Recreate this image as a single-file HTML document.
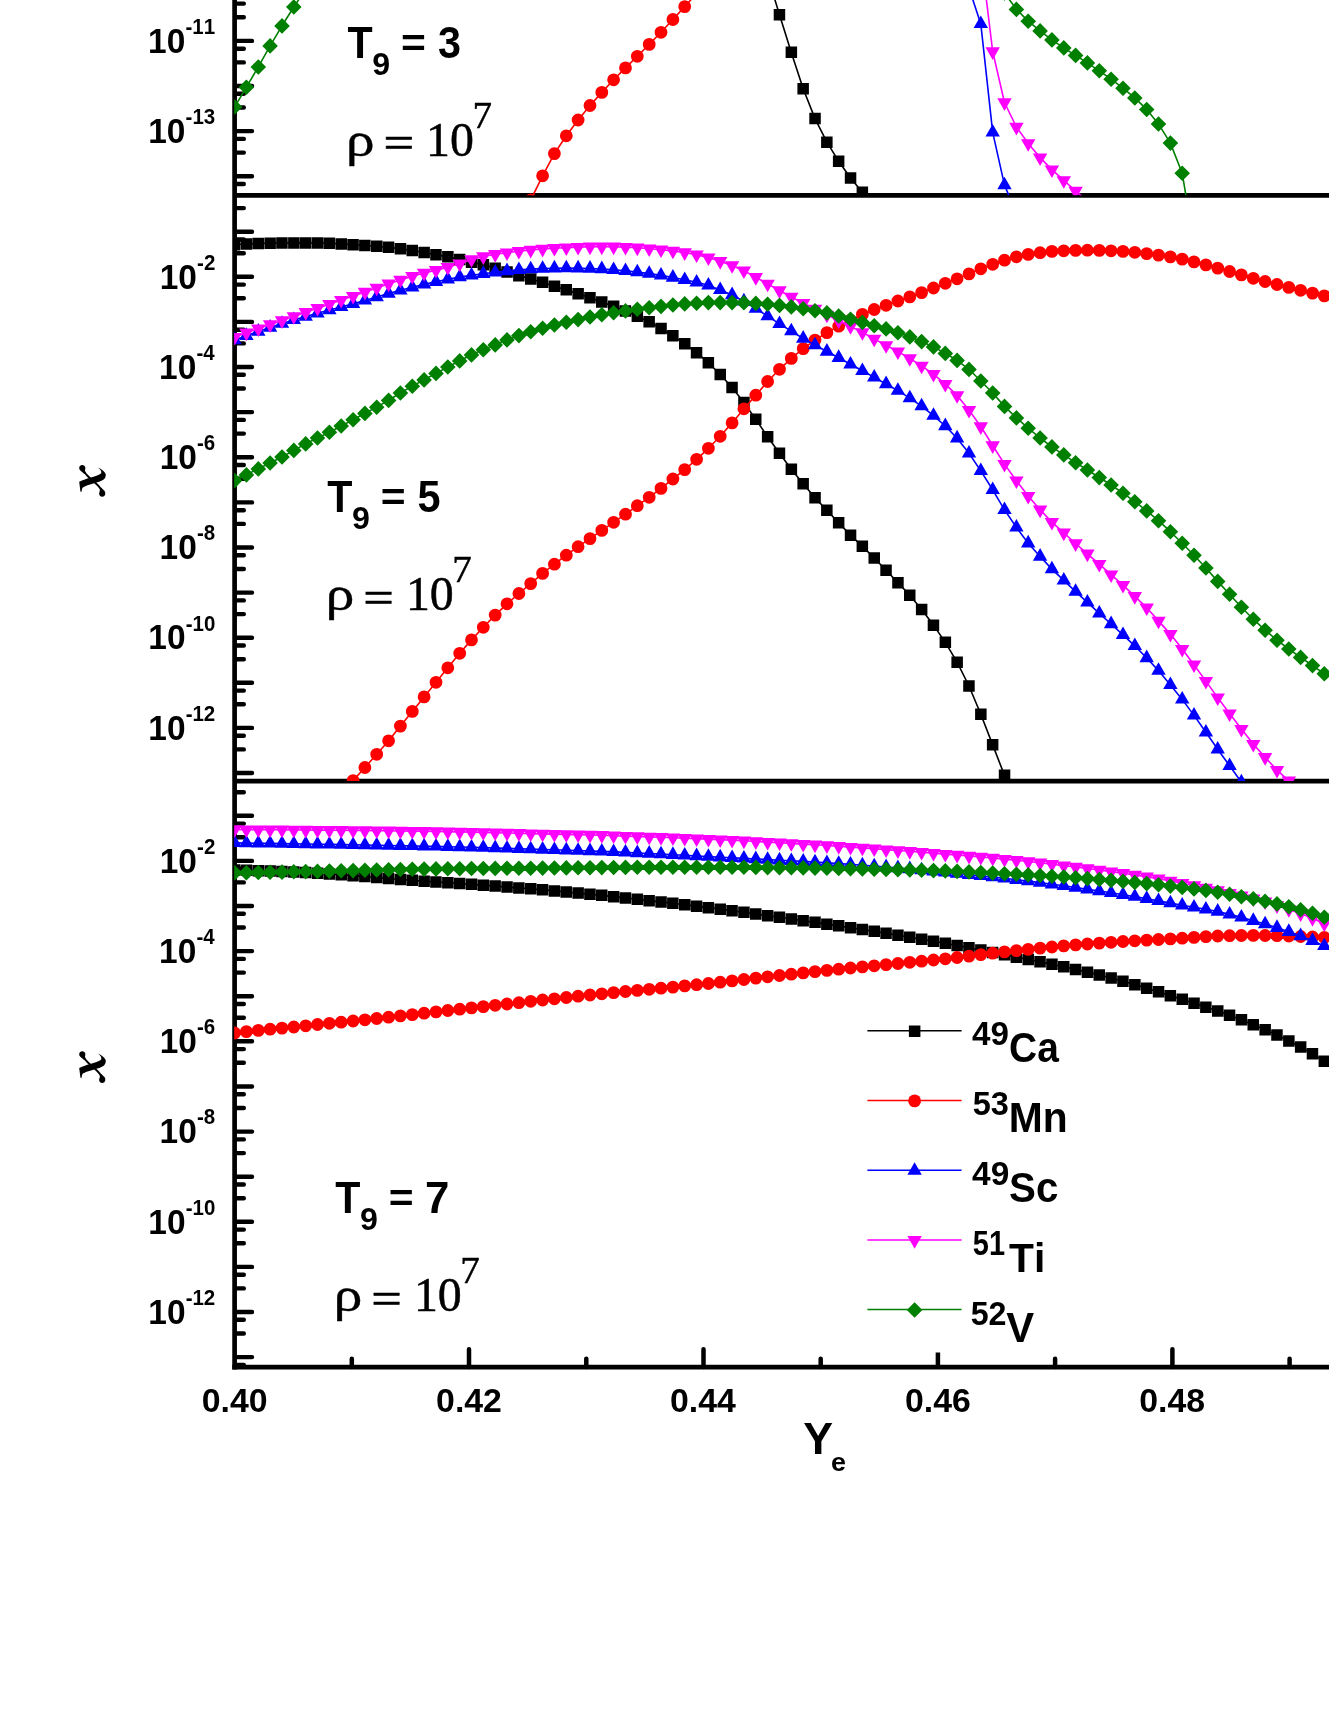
<!DOCTYPE html>
<html><head><meta charset="utf-8"><title>chart</title>
<style>html,body{margin:0;padding:0;background:#fff;overflow:hidden;}svg{display:block;}text{font-kerning:none;}svg{will-change:transform;}</style></head>
<body>
<svg width="1329" height="1719" viewBox="0 0 1329 1719">
<defs>
<clipPath id="c1"><rect x="234.2" y="-20" width="1200" height="215.3"/></clipPath>
<clipPath id="c2"><rect x="234.2" y="195.3" width="1200" height="585.8"/></clipPath>
<clipPath id="c3"><rect x="234.2" y="781.1" width="1200" height="586"/></clipPath>
</defs>
<rect width="1329" height="1719" fill="#fff"/>
<g stroke="#000" fill="none">
<path d="M234.6 -5V1369.4" stroke-width="4.7"/>
<path d="M234.6 195.4H1335M234.6 781.1H1335" stroke-width="4.8"/>
<path d="M232.3 1367.1H1335" stroke-width="4.8"/>
<path d="M235.6 -4.2H252M235.6 40.9H252M235.6 86H252M235.6 131.1H252M235.6 176.2H252M235.6 231.7H252M235.6 276.8H252M235.6 321.9H252M235.6 367H252M235.6 412.1H252M235.6 457.2H252M235.6 502.4H252M235.6 547.5H252M235.6 592.6H252M235.6 637.7H252M235.6 682.8H252M235.6 727.9H252M235.6 773H252M235.6 815.8H252M235.6 860.9H252M235.6 906H252M235.6 951.1H252M235.6 996.2H252M235.6 1041.3H252M235.6 1086.5H252M235.6 1131.6H252M235.6 1176.7H252M235.6 1221.8H252M235.6 1266.9H252M235.6 1312H252M235.6 1357.1H252" stroke-width="4.4" stroke-linecap="round"/>
<path d="M235.6 3.6H243.8M235.6 17.3H243.8M235.6 48.7H243.8M235.6 62.4H243.8M235.6 93.8H243.8M235.6 107.5H243.8M235.6 138.9H243.8M235.6 152.6H243.8M235.6 184H243.8M235.6 208.1H243.8M235.6 239.5H243.8M235.6 253.2H243.8M235.6 284.6H243.8M235.6 298.3H243.8M235.6 329.7H243.8M235.6 343.4H243.8M235.6 374.8H243.8M235.6 388.5H243.8M235.6 419.9H243.8M235.6 433.6H243.8M235.6 465H243.8M235.6 478.7H243.8M235.6 510.2H243.8M235.6 523.9H243.8M235.6 555.3H243.8M235.6 569H243.8M235.6 600.4H243.8M235.6 614.1H243.8M235.6 645.5H243.8M235.6 659.2H243.8M235.6 690.6H243.8M235.6 704.3H243.8M235.6 735.7H243.8M235.6 749.4H243.8M235.6 792.2H243.8M235.6 823.6H243.8M235.6 837.3H243.8M235.6 868.7H243.8M235.6 882.4H243.8M235.6 913.8H243.8M235.6 927.5H243.8M235.6 958.9H243.8M235.6 972.6H243.8M235.6 1004H243.8M235.6 1017.7H243.8M235.6 1049.1H243.8M235.6 1062.8H243.8M235.6 1094.2H243.8M235.6 1108H243.8M235.6 1139.4H243.8M235.6 1153.1H243.8M235.6 1184.5H243.8M235.6 1198.2H243.8M235.6 1229.6H243.8M235.6 1243.3H243.8M235.6 1274.7H243.8M235.6 1288.4H243.8M235.6 1319.8H243.8M235.6 1333.5H243.8M235.6 1364.9H243.8" stroke-width="4.4" stroke-linecap="round"/>
<path d="M351.8 1367.1V1358.8M469 1367.1V1349.2M586.3 1367.1V1358.8M703.5 1367.1V1349.2M820.7 1367.1V1358.8M1055.1 1367.1V1358.8M1172.4 1367.1V1349.2M1289.6 1367.1V1358.8" stroke-width="4.5" stroke-linecap="round"/>
<path d="M937.9 1367.1V1352.5" stroke-width="4.5"/>
</g>
<g clip-path="url(#c1)">
<path d="M755.8 -62L767.6 -24L779.5 14.7L791.3 52.4L803.2 88.8L815 118.6L826.9 142.2L838.7 161.3L850.5 178L862.4 192.3L874.2 205" fill="none" stroke="#000000" stroke-width="1.6" stroke-linejoin="round"/>
<path d="M750 -67.8h11.5v11.5h-11.5zM761.9 -29.8h11.5v11.5h-11.5zM773.7 8.9h11.5v11.5h-11.5zM785.6 46.6h11.5v11.5h-11.5zM797.4 83h11.5v11.5h-11.5zM809.3 112.8h11.5v11.5h-11.5zM821.1 136.4h11.5v11.5h-11.5zM832.9 155.6h11.5v11.5h-11.5zM844.8 172.2h11.5v11.5h-11.5zM856.6 186.6h11.5v11.5h-11.5zM868.5 199.2h11.5v11.5h-11.5z" fill="#000000"/>
<path d="M530.7 200L542.6 175.8L554.4 153.6L566.3 135.8L578.1 120L590 105.5L601.8 92.4L613.6 79.8L625.5 67.9L637.3 56.3L649.2 44.4L661 32.3L672.9 19.5L684.7 6.6L696.6 -6.5L708.4 -20" fill="none" stroke="#ff0000" stroke-width="1.6" stroke-linejoin="round"/>
<path d="M524.3 200a6.4 6.4 0 1 0 12.8 0a6.4 6.4 0 1 0 -12.8 0zM536.2 175.8a6.4 6.4 0 1 0 12.8 0a6.4 6.4 0 1 0 -12.8 0zM548 153.6a6.4 6.4 0 1 0 12.8 0a6.4 6.4 0 1 0 -12.8 0zM559.9 135.8a6.4 6.4 0 1 0 12.8 0a6.4 6.4 0 1 0 -12.8 0zM571.7 120a6.4 6.4 0 1 0 12.8 0a6.4 6.4 0 1 0 -12.8 0zM583.6 105.5a6.4 6.4 0 1 0 12.8 0a6.4 6.4 0 1 0 -12.8 0zM595.4 92.4a6.4 6.4 0 1 0 12.8 0a6.4 6.4 0 1 0 -12.8 0zM607.2 79.8a6.4 6.4 0 1 0 12.8 0a6.4 6.4 0 1 0 -12.8 0zM619.1 67.9a6.4 6.4 0 1 0 12.8 0a6.4 6.4 0 1 0 -12.8 0zM630.9 56.3a6.4 6.4 0 1 0 12.8 0a6.4 6.4 0 1 0 -12.8 0zM642.8 44.4a6.4 6.4 0 1 0 12.8 0a6.4 6.4 0 1 0 -12.8 0zM654.6 32.3a6.4 6.4 0 1 0 12.8 0a6.4 6.4 0 1 0 -12.8 0zM666.5 19.5a6.4 6.4 0 1 0 12.8 0a6.4 6.4 0 1 0 -12.8 0zM678.3 6.6a6.4 6.4 0 1 0 12.8 0a6.4 6.4 0 1 0 -12.8 0zM690.2 -6.5a6.4 6.4 0 1 0 12.8 0a6.4 6.4 0 1 0 -12.8 0zM702 -20a6.4 6.4 0 1 0 12.8 0a6.4 6.4 0 1 0 -12.8 0z" fill="#ff0000"/>
<path d="M957.1 -47.9L969 -11.9L980.8 23.9L992.7 132.3L1004.5 185.1L1016.4 213.1" fill="none" stroke="#0000ff" stroke-width="1.6" stroke-linejoin="round"/>
<path d="M957.1 -56.3l7.2 12.6h-14.4zM969 -20.3l7.2 12.6h-14.4zM980.8 15.5l7.2 12.6h-14.4zM992.7 123.9l7.2 12.6h-14.4zM1004.5 176.7l7.2 12.6h-14.4zM1016.4 204.7l7.2 12.6h-14.4z" fill="#0000ff"/>
<path d="M969 -142.1L980.8 -46.1L992.7 51.5L1004.5 102.5L1016.4 127L1028.2 143.4L1040.1 157.6L1051.9 169.6L1063.8 180.4L1075.6 191L1087.4 200.9" fill="none" stroke="#ff00ff" stroke-width="1.6" stroke-linejoin="round"/>
<path d="M969 -133.7l7.2 -12.6h-14.4zM980.8 -37.7l7.2 -12.6h-14.4zM992.7 59.9l7.2 -12.6h-14.4zM1004.5 110.9l7.2 -12.6h-14.4zM1016.4 135.4l7.2 -12.6h-14.4zM1028.2 151.8l7.2 -12.6h-14.4zM1040.1 166l7.2 -12.6h-14.4zM1051.9 178l7.2 -12.6h-14.4zM1063.8 188.8l7.2 -12.6h-14.4zM1075.6 199.4l7.2 -12.6h-14.4zM1087.4 209.3l7.2 -12.6h-14.4z" fill="#ff00ff"/>
<path d="M234.6 107L246.4 87.2L258.3 66.9L270.1 45.9L282 25.8L293.8 7L305.7 -11L317.5 -29" fill="none" stroke="#008000" stroke-width="1.6" stroke-linejoin="round"/>
<path d="M234.6 99.2l7.8 7.8l-7.8 7.8l-7.8 -7.8zM246.4 79.5l7.8 7.8l-7.8 7.8l-7.8 -7.8zM258.3 59.2l7.8 7.8l-7.8 7.8l-7.8 -7.8zM270.1 38.1l7.8 7.8l-7.8 7.8l-7.8 -7.8zM282 18.1l7.8 7.8l-7.8 7.8l-7.8 -7.8zM293.8 -0.8l7.8 7.8l-7.8 7.8l-7.8 -7.8zM305.7 -18.8l7.8 7.8l-7.8 7.8l-7.8 -7.8zM317.5 -36.8l7.8 7.8l-7.8 7.8l-7.8 -7.8z" fill="#008000"/>
<path d="M992.7 -22L1004.5 -7L1016.4 9.3L1028.2 21.1L1040.1 30.8L1051.9 39.9L1063.8 47.9L1075.6 55.4L1087.4 62.9L1099.3 70.8L1111.1 79.2L1123 88.2L1134.8 97.9L1146.7 109.4L1158.5 123.9L1170.4 143.1L1182.2 173.2L1194 244" fill="none" stroke="#008000" stroke-width="1.6" stroke-linejoin="round"/>
<path d="M992.7 -29.8l7.8 7.8l-7.8 7.8l-7.8 -7.8zM1004.5 -14.8l7.8 7.8l-7.8 7.8l-7.8 -7.8zM1016.4 1.6l7.8 7.8l-7.8 7.8l-7.8 -7.8zM1028.2 13.4l7.8 7.8l-7.8 7.8l-7.8 -7.8zM1040.1 23.1l7.8 7.8l-7.8 7.8l-7.8 -7.8zM1051.9 32.1l7.8 7.8l-7.8 7.8l-7.8 -7.8zM1063.8 40.1l7.8 7.8l-7.8 7.8l-7.8 -7.8zM1075.6 47.6l7.8 7.8l-7.8 7.8l-7.8 -7.8zM1087.4 55.1l7.8 7.8l-7.8 7.8l-7.8 -7.8zM1099.3 63l7.8 7.8l-7.8 7.8l-7.8 -7.8zM1111.1 71.5l7.8 7.8l-7.8 7.8l-7.8 -7.8zM1123 80.5l7.8 7.8l-7.8 7.8l-7.8 -7.8zM1134.8 90.2l7.8 7.8l-7.8 7.8l-7.8 -7.8zM1146.7 101.7l7.8 7.8l-7.8 7.8l-7.8 -7.8zM1158.5 116.2l7.8 7.8l-7.8 7.8l-7.8 -7.8zM1170.4 135.3l7.8 7.8l-7.8 7.8l-7.8 -7.8zM1182.2 165.4l7.8 7.8l-7.8 7.8l-7.8 -7.8zM1194 236.2l7.8 7.8l-7.8 7.8l-7.8 -7.8z" fill="#008000"/>
</g>
<g clip-path="url(#c2)">
<path d="M234.6 244.8L246.4 244L258.3 243.5L270.1 243.2L282 243L293.8 242.9L305.7 242.9L317.5 243L329.4 243.3L341.2 243.9L353.1 244.8L364.9 245.5L376.7 246.3L388.6 247.4L400.4 248.7L412.3 250.5L424.1 252.5L436 254.6L447.8 256.9L459.7 259.4L471.5 262.1L483.3 264.9L495.2 268.1L507 272L518.9 275.6L530.7 279L542.6 282.4L554.4 286.2L566.3 289.9L578.1 293.7L590 297.8L601.8 302L613.6 306.3L625.5 311L637.3 316.3L649.2 321.9L661 328.5L672.9 335.8L684.7 343.9L696.6 352.7L708.4 362.7L720.2 374.5L732.1 387.5L743.9 402.5L755.8 419.4L767.6 436.7L779.5 453.2L791.3 469.2L803.2 483.7L815 497.8L826.9 510.4L838.7 522.8L850.5 535.1L862.4 546.4L874.2 558L886.1 570.2L897.9 582.6L909.8 595.3L921.6 609.5L933.5 625.1L945.3 642.4L957.1 662.1L969 686L980.8 714.2L992.7 744.9L1004.5 775.4L1016.4 806" fill="none" stroke="#000000" stroke-width="1.6" stroke-linejoin="round"/>
<path d="M228.8 239.1h11.5v11.5h-11.5zM240.7 238.3h11.5v11.5h-11.5zM252.5 237.8h11.5v11.5h-11.5zM264.4 237.4h11.5v11.5h-11.5zM276.2 237.2h11.5v11.5h-11.5zM288.1 237.2h11.5v11.5h-11.5zM299.9 237.2h11.5v11.5h-11.5zM311.8 237.3h11.5v11.5h-11.5zM323.6 237.6h11.5v11.5h-11.5zM335.5 238.2h11.5v11.5h-11.5zM347.3 239.1h11.5v11.5h-11.5zM359.1 239.8h11.5v11.5h-11.5zM371 240.6h11.5v11.5h-11.5zM382.8 241.6h11.5v11.5h-11.5zM394.7 242.9h11.5v11.5h-11.5zM406.5 244.7h11.5v11.5h-11.5zM418.4 246.8h11.5v11.5h-11.5zM430.2 248.9h11.5v11.5h-11.5zM442.1 251.1h11.5v11.5h-11.5zM453.9 253.7h11.5v11.5h-11.5zM465.8 256.4h11.5v11.5h-11.5zM477.6 259.1h11.5v11.5h-11.5zM489.4 262.4h11.5v11.5h-11.5zM501.3 266.2h11.5v11.5h-11.5zM513.1 269.9h11.5v11.5h-11.5zM525 273.2h11.5v11.5h-11.5zM536.8 276.6h11.5v11.5h-11.5zM548.7 280.4h11.5v11.5h-11.5zM560.5 284.1h11.5v11.5h-11.5zM572.4 287.9h11.5v11.5h-11.5zM584.2 292.1h11.5v11.5h-11.5zM596 296.2h11.5v11.5h-11.5zM607.9 300.6h11.5v11.5h-11.5zM619.7 305.2h11.5v11.5h-11.5zM631.6 310.6h11.5v11.5h-11.5zM643.4 316.1h11.5v11.5h-11.5zM655.3 322.8h11.5v11.5h-11.5zM667.1 330.1h11.5v11.5h-11.5zM679 338.1h11.5v11.5h-11.5zM690.8 346.9h11.5v11.5h-11.5zM702.6 356.9h11.5v11.5h-11.5zM714.5 368.8h11.5v11.5h-11.5zM726.3 381.8h11.5v11.5h-11.5zM738.2 396.8h11.5v11.5h-11.5zM750 413.6h11.5v11.5h-11.5zM761.9 430.9h11.5v11.5h-11.5zM773.7 447.4h11.5v11.5h-11.5zM785.6 463.4h11.5v11.5h-11.5zM797.4 477.9h11.5v11.5h-11.5zM809.3 492.1h11.5v11.5h-11.5zM821.1 504.6h11.5v11.5h-11.5zM832.9 517h11.5v11.5h-11.5zM844.8 529.4h11.5v11.5h-11.5zM856.6 540.6h11.5v11.5h-11.5zM868.5 552.2h11.5v11.5h-11.5zM880.3 564.5h11.5v11.5h-11.5zM892.2 576.9h11.5v11.5h-11.5zM904 589.5h11.5v11.5h-11.5zM915.9 603.8h11.5v11.5h-11.5zM927.7 619.4h11.5v11.5h-11.5zM939.6 636.6h11.5v11.5h-11.5zM951.4 656.4h11.5v11.5h-11.5zM963.2 680.2h11.5v11.5h-11.5zM975.1 708.5h11.5v11.5h-11.5zM986.9 739.1h11.5v11.5h-11.5zM998.8 769.6h11.5v11.5h-11.5zM1010.6 800.2h11.5v11.5h-11.5z" fill="#000000"/>
<path d="M341.2 794L353.1 780.6L364.9 767.5L376.7 754.3L388.6 740.8L400.4 726.1L412.3 711.4L424.1 696.9L436 682.3L447.8 667.8L459.7 653.3L471.5 639.9L483.3 627.3L495.2 615.1L507 603.8L518.9 593.5L530.7 583.6L542.6 573.4L554.4 564.2L566.3 555.2L578.1 546.7L590 538.6L601.8 530.4L613.6 522.3L625.5 514.2L637.3 505.7L649.2 497.3L661 488.4L672.9 479L684.7 469.6L696.6 459.3L708.4 448.3L720.2 436.3L732.1 422.9L743.9 408.8L755.8 395.2L767.6 381.5L779.5 369.3L791.3 358.4L803.2 348.6L815 340.1L826.9 332.6L838.7 326.2L850.5 320.2L862.4 314.4L874.2 309.5L886.1 305.3L897.9 301L909.8 296.9L921.6 292.6L933.5 288L945.3 283.3L957.1 278.8L969 273.9L980.8 268.8L992.7 264.3L1004.5 260.2L1016.4 256.8L1028.2 254.4L1040.1 252.7L1051.9 251.4L1063.8 250.8L1075.6 250.4L1087.4 250.2L1099.3 250.4L1111.1 250.8L1123 251.4L1134.8 252.3L1146.7 253.6L1158.5 255.1L1170.4 256.9L1182.2 259.1L1194 261.9L1205.9 264.9L1217.7 268.1L1229.6 271.5L1241.4 274.9L1253.3 278.3L1265.1 281.5L1277 284.5L1288.8 287.4L1300.6 290.3L1312.5 293.1L1324.3 295.9" fill="none" stroke="#ff0000" stroke-width="1.6" stroke-linejoin="round"/>
<path d="M334.8 794a6.4 6.4 0 1 0 12.8 0a6.4 6.4 0 1 0 -12.8 0zM346.7 780.6a6.4 6.4 0 1 0 12.8 0a6.4 6.4 0 1 0 -12.8 0zM358.5 767.5a6.4 6.4 0 1 0 12.8 0a6.4 6.4 0 1 0 -12.8 0zM370.3 754.3a6.4 6.4 0 1 0 12.8 0a6.4 6.4 0 1 0 -12.8 0zM382.2 740.8a6.4 6.4 0 1 0 12.8 0a6.4 6.4 0 1 0 -12.8 0zM394 726.1a6.4 6.4 0 1 0 12.8 0a6.4 6.4 0 1 0 -12.8 0zM405.9 711.4a6.4 6.4 0 1 0 12.8 0a6.4 6.4 0 1 0 -12.8 0zM417.7 696.9a6.4 6.4 0 1 0 12.8 0a6.4 6.4 0 1 0 -12.8 0zM429.6 682.3a6.4 6.4 0 1 0 12.8 0a6.4 6.4 0 1 0 -12.8 0zM441.4 667.8a6.4 6.4 0 1 0 12.8 0a6.4 6.4 0 1 0 -12.8 0zM453.3 653.3a6.4 6.4 0 1 0 12.8 0a6.4 6.4 0 1 0 -12.8 0zM465.1 639.9a6.4 6.4 0 1 0 12.8 0a6.4 6.4 0 1 0 -12.8 0zM476.9 627.3a6.4 6.4 0 1 0 12.8 0a6.4 6.4 0 1 0 -12.8 0zM488.8 615.1a6.4 6.4 0 1 0 12.8 0a6.4 6.4 0 1 0 -12.8 0zM500.6 603.8a6.4 6.4 0 1 0 12.8 0a6.4 6.4 0 1 0 -12.8 0zM512.5 593.5a6.4 6.4 0 1 0 12.8 0a6.4 6.4 0 1 0 -12.8 0zM524.3 583.6a6.4 6.4 0 1 0 12.8 0a6.4 6.4 0 1 0 -12.8 0zM536.2 573.4a6.4 6.4 0 1 0 12.8 0a6.4 6.4 0 1 0 -12.8 0zM548 564.2a6.4 6.4 0 1 0 12.8 0a6.4 6.4 0 1 0 -12.8 0zM559.9 555.2a6.4 6.4 0 1 0 12.8 0a6.4 6.4 0 1 0 -12.8 0zM571.7 546.7a6.4 6.4 0 1 0 12.8 0a6.4 6.4 0 1 0 -12.8 0zM583.6 538.6a6.4 6.4 0 1 0 12.8 0a6.4 6.4 0 1 0 -12.8 0zM595.4 530.4a6.4 6.4 0 1 0 12.8 0a6.4 6.4 0 1 0 -12.8 0zM607.2 522.3a6.4 6.4 0 1 0 12.8 0a6.4 6.4 0 1 0 -12.8 0zM619.1 514.2a6.4 6.4 0 1 0 12.8 0a6.4 6.4 0 1 0 -12.8 0zM630.9 505.7a6.4 6.4 0 1 0 12.8 0a6.4 6.4 0 1 0 -12.8 0zM642.8 497.3a6.4 6.4 0 1 0 12.8 0a6.4 6.4 0 1 0 -12.8 0zM654.6 488.4a6.4 6.4 0 1 0 12.8 0a6.4 6.4 0 1 0 -12.8 0zM666.5 479a6.4 6.4 0 1 0 12.8 0a6.4 6.4 0 1 0 -12.8 0zM678.3 469.6a6.4 6.4 0 1 0 12.8 0a6.4 6.4 0 1 0 -12.8 0zM690.2 459.3a6.4 6.4 0 1 0 12.8 0a6.4 6.4 0 1 0 -12.8 0zM702 448.3a6.4 6.4 0 1 0 12.8 0a6.4 6.4 0 1 0 -12.8 0zM713.8 436.3a6.4 6.4 0 1 0 12.8 0a6.4 6.4 0 1 0 -12.8 0zM725.7 422.9a6.4 6.4 0 1 0 12.8 0a6.4 6.4 0 1 0 -12.8 0zM737.5 408.8a6.4 6.4 0 1 0 12.8 0a6.4 6.4 0 1 0 -12.8 0zM749.4 395.2a6.4 6.4 0 1 0 12.8 0a6.4 6.4 0 1 0 -12.8 0zM761.2 381.5a6.4 6.4 0 1 0 12.8 0a6.4 6.4 0 1 0 -12.8 0zM773.1 369.3a6.4 6.4 0 1 0 12.8 0a6.4 6.4 0 1 0 -12.8 0zM784.9 358.4a6.4 6.4 0 1 0 12.8 0a6.4 6.4 0 1 0 -12.8 0zM796.8 348.6a6.4 6.4 0 1 0 12.8 0a6.4 6.4 0 1 0 -12.8 0zM808.6 340.1a6.4 6.4 0 1 0 12.8 0a6.4 6.4 0 1 0 -12.8 0zM820.5 332.6a6.4 6.4 0 1 0 12.8 0a6.4 6.4 0 1 0 -12.8 0zM832.3 326.2a6.4 6.4 0 1 0 12.8 0a6.4 6.4 0 1 0 -12.8 0zM844.1 320.2a6.4 6.4 0 1 0 12.8 0a6.4 6.4 0 1 0 -12.8 0zM856 314.4a6.4 6.4 0 1 0 12.8 0a6.4 6.4 0 1 0 -12.8 0zM867.8 309.5a6.4 6.4 0 1 0 12.8 0a6.4 6.4 0 1 0 -12.8 0zM879.7 305.3a6.4 6.4 0 1 0 12.8 0a6.4 6.4 0 1 0 -12.8 0zM891.5 301a6.4 6.4 0 1 0 12.8 0a6.4 6.4 0 1 0 -12.8 0zM903.4 296.9a6.4 6.4 0 1 0 12.8 0a6.4 6.4 0 1 0 -12.8 0zM915.2 292.6a6.4 6.4 0 1 0 12.8 0a6.4 6.4 0 1 0 -12.8 0zM927.1 288a6.4 6.4 0 1 0 12.8 0a6.4 6.4 0 1 0 -12.8 0zM938.9 283.3a6.4 6.4 0 1 0 12.8 0a6.4 6.4 0 1 0 -12.8 0zM950.7 278.8a6.4 6.4 0 1 0 12.8 0a6.4 6.4 0 1 0 -12.8 0zM962.6 273.9a6.4 6.4 0 1 0 12.8 0a6.4 6.4 0 1 0 -12.8 0zM974.4 268.8a6.4 6.4 0 1 0 12.8 0a6.4 6.4 0 1 0 -12.8 0zM986.3 264.3a6.4 6.4 0 1 0 12.8 0a6.4 6.4 0 1 0 -12.8 0zM998.1 260.2a6.4 6.4 0 1 0 12.8 0a6.4 6.4 0 1 0 -12.8 0zM1010 256.8a6.4 6.4 0 1 0 12.8 0a6.4 6.4 0 1 0 -12.8 0zM1021.8 254.4a6.4 6.4 0 1 0 12.8 0a6.4 6.4 0 1 0 -12.8 0zM1033.7 252.7a6.4 6.4 0 1 0 12.8 0a6.4 6.4 0 1 0 -12.8 0zM1045.5 251.4a6.4 6.4 0 1 0 12.8 0a6.4 6.4 0 1 0 -12.8 0zM1057.3 250.8a6.4 6.4 0 1 0 12.8 0a6.4 6.4 0 1 0 -12.8 0zM1069.2 250.4a6.4 6.4 0 1 0 12.8 0a6.4 6.4 0 1 0 -12.8 0zM1081 250.2a6.4 6.4 0 1 0 12.8 0a6.4 6.4 0 1 0 -12.8 0zM1092.9 250.4a6.4 6.4 0 1 0 12.8 0a6.4 6.4 0 1 0 -12.8 0zM1104.7 250.8a6.4 6.4 0 1 0 12.8 0a6.4 6.4 0 1 0 -12.8 0zM1116.6 251.4a6.4 6.4 0 1 0 12.8 0a6.4 6.4 0 1 0 -12.8 0zM1128.4 252.3a6.4 6.4 0 1 0 12.8 0a6.4 6.4 0 1 0 -12.8 0zM1140.3 253.6a6.4 6.4 0 1 0 12.8 0a6.4 6.4 0 1 0 -12.8 0zM1152.1 255.1a6.4 6.4 0 1 0 12.8 0a6.4 6.4 0 1 0 -12.8 0zM1164 256.9a6.4 6.4 0 1 0 12.8 0a6.4 6.4 0 1 0 -12.8 0zM1175.8 259.1a6.4 6.4 0 1 0 12.8 0a6.4 6.4 0 1 0 -12.8 0zM1187.6 261.9a6.4 6.4 0 1 0 12.8 0a6.4 6.4 0 1 0 -12.8 0zM1199.5 264.9a6.4 6.4 0 1 0 12.8 0a6.4 6.4 0 1 0 -12.8 0zM1211.3 268.1a6.4 6.4 0 1 0 12.8 0a6.4 6.4 0 1 0 -12.8 0zM1223.2 271.5a6.4 6.4 0 1 0 12.8 0a6.4 6.4 0 1 0 -12.8 0zM1235 274.9a6.4 6.4 0 1 0 12.8 0a6.4 6.4 0 1 0 -12.8 0zM1246.9 278.3a6.4 6.4 0 1 0 12.8 0a6.4 6.4 0 1 0 -12.8 0zM1258.7 281.5a6.4 6.4 0 1 0 12.8 0a6.4 6.4 0 1 0 -12.8 0zM1270.6 284.5a6.4 6.4 0 1 0 12.8 0a6.4 6.4 0 1 0 -12.8 0zM1282.4 287.4a6.4 6.4 0 1 0 12.8 0a6.4 6.4 0 1 0 -12.8 0zM1294.2 290.3a6.4 6.4 0 1 0 12.8 0a6.4 6.4 0 1 0 -12.8 0zM1306.1 293.1a6.4 6.4 0 1 0 12.8 0a6.4 6.4 0 1 0 -12.8 0zM1317.9 295.9a6.4 6.4 0 1 0 12.8 0a6.4 6.4 0 1 0 -12.8 0z" fill="#ff0000"/>
<path d="M234.6 340.1L246.4 335.7L258.3 331.5L270.1 327.5L282 323.6L293.8 319.9L305.7 316.5L317.5 313.2L329.4 310L341.2 306.9L353.1 303.7L364.9 300.4L376.7 297L388.6 293.6L400.4 290.3L412.3 287.3L424.1 284.4L436 281.7L447.8 279.2L459.7 277L471.5 275.3L483.3 273.7L495.2 272.3L507 271L518.9 269.9L530.7 269.1L542.6 268.6L554.4 268.2L566.3 268.1L578.1 268.2L590 268.5L601.8 269L613.6 269.8L625.5 270.8L637.3 272.1L649.2 273.6L661 275.4L672.9 277.5L684.7 279.8L696.6 282.3L708.4 285.3L720.2 289.9L732.1 295L743.9 301.2L755.8 308.6L767.6 316.1L779.5 323.8L791.3 331.1L803.2 338.5L815 345.1L826.9 351.5L838.7 357.7L850.5 364.3L862.4 370.8L874.2 377.4L886.1 384L897.9 390.6L909.8 398.1L921.6 406.1L933.5 415.6L945.3 426L957.1 438.2L969 453.3L980.8 470.9L992.7 489.8L1004.5 509.8L1016.4 527.4L1028.2 543.2L1040.1 556.5L1051.9 569.1L1063.8 580.4L1075.6 591.6L1087.4 602.4L1099.3 613.3L1111.1 624L1123 634.8L1134.8 645.8L1146.7 658L1158.5 670.6L1170.4 684.9L1182.2 699.4L1194 715.4L1205.9 732.3L1217.7 749.3L1229.6 765.8L1241.4 782.2L1253.3 798.1" fill="none" stroke="#0000ff" stroke-width="1.6" stroke-linejoin="round"/>
<path d="M234.6 331.7l7.2 12.6h-14.4zM246.4 327.3l7.2 12.6h-14.4zM258.3 323.1l7.2 12.6h-14.4zM270.1 319.1l7.2 12.6h-14.4zM282 315.2l7.2 12.6h-14.4zM293.8 311.5l7.2 12.6h-14.4zM305.7 308.1l7.2 12.6h-14.4zM317.5 304.8l7.2 12.6h-14.4zM329.4 301.6l7.2 12.6h-14.4zM341.2 298.5l7.2 12.6h-14.4zM353.1 295.3l7.2 12.6h-14.4zM364.9 292l7.2 12.6h-14.4zM376.7 288.6l7.2 12.6h-14.4zM388.6 285.2l7.2 12.6h-14.4zM400.4 281.9l7.2 12.6h-14.4zM412.3 278.9l7.2 12.6h-14.4zM424.1 276l7.2 12.6h-14.4zM436 273.3l7.2 12.6h-14.4zM447.8 270.8l7.2 12.6h-14.4zM459.7 268.6l7.2 12.6h-14.4zM471.5 266.9l7.2 12.6h-14.4zM483.3 265.3l7.2 12.6h-14.4zM495.2 263.9l7.2 12.6h-14.4zM507 262.6l7.2 12.6h-14.4zM518.9 261.5l7.2 12.6h-14.4zM530.7 260.7l7.2 12.6h-14.4zM542.6 260.2l7.2 12.6h-14.4zM554.4 259.8l7.2 12.6h-14.4zM566.3 259.7l7.2 12.6h-14.4zM578.1 259.8l7.2 12.6h-14.4zM590 260.1l7.2 12.6h-14.4zM601.8 260.6l7.2 12.6h-14.4zM613.6 261.4l7.2 12.6h-14.4zM625.5 262.4l7.2 12.6h-14.4zM637.3 263.7l7.2 12.6h-14.4zM649.2 265.2l7.2 12.6h-14.4zM661 267l7.2 12.6h-14.4zM672.9 269.1l7.2 12.6h-14.4zM684.7 271.4l7.2 12.6h-14.4zM696.6 273.9l7.2 12.6h-14.4zM708.4 276.9l7.2 12.6h-14.4zM720.2 281.5l7.2 12.6h-14.4zM732.1 286.6l7.2 12.6h-14.4zM743.9 292.8l7.2 12.6h-14.4zM755.8 300.2l7.2 12.6h-14.4zM767.6 307.7l7.2 12.6h-14.4zM779.5 315.4l7.2 12.6h-14.4zM791.3 322.7l7.2 12.6h-14.4zM803.2 330.1l7.2 12.6h-14.4zM815 336.7l7.2 12.6h-14.4zM826.9 343.1l7.2 12.6h-14.4zM838.7 349.3l7.2 12.6h-14.4zM850.5 355.9l7.2 12.6h-14.4zM862.4 362.4l7.2 12.6h-14.4zM874.2 369l7.2 12.6h-14.4zM886.1 375.6l7.2 12.6h-14.4zM897.9 382.2l7.2 12.6h-14.4zM909.8 389.7l7.2 12.6h-14.4zM921.6 397.7l7.2 12.6h-14.4zM933.5 407.2l7.2 12.6h-14.4zM945.3 417.6l7.2 12.6h-14.4zM957.1 429.8l7.2 12.6h-14.4zM969 444.9l7.2 12.6h-14.4zM980.8 462.5l7.2 12.6h-14.4zM992.7 481.4l7.2 12.6h-14.4zM1004.5 501.4l7.2 12.6h-14.4zM1016.4 519l7.2 12.6h-14.4zM1028.2 534.8l7.2 12.6h-14.4zM1040.1 548.1l7.2 12.6h-14.4zM1051.9 560.7l7.2 12.6h-14.4zM1063.8 572l7.2 12.6h-14.4zM1075.6 583.2l7.2 12.6h-14.4zM1087.4 594l7.2 12.6h-14.4zM1099.3 604.9l7.2 12.6h-14.4zM1111.1 615.6l7.2 12.6h-14.4zM1123 626.4l7.2 12.6h-14.4zM1134.8 637.4l7.2 12.6h-14.4zM1146.7 649.6l7.2 12.6h-14.4zM1158.5 662.2l7.2 12.6h-14.4zM1170.4 676.5l7.2 12.6h-14.4zM1182.2 691l7.2 12.6h-14.4zM1194 707l7.2 12.6h-14.4zM1205.9 723.9l7.2 12.6h-14.4zM1217.7 740.9l7.2 12.6h-14.4zM1229.6 757.4l7.2 12.6h-14.4zM1241.4 773.8l7.2 12.6h-14.4zM1253.3 789.7l7.2 12.6h-14.4z" fill="#0000ff"/>
<path d="M234.6 337.1L246.4 332.8L258.3 328.6L270.1 324.5L282 320.5L293.8 316.4L305.7 312.3L317.5 308.2L329.4 304.2L341.2 300.1L353.1 296.1L364.9 292L376.7 287.9L388.6 283.8L400.4 279.9L412.3 276.2L424.1 273L436 270.1L447.8 267.1L459.7 263.7L471.5 259.4L483.3 256.5L495.2 254.3L507 252.6L518.9 251.2L530.7 250L542.6 249L554.4 248.2L566.3 247.6L578.1 247.1L590 246.8L601.8 246.8L613.6 246.8L625.5 247.1L637.3 247.8L649.2 248.7L661 249.7L672.9 250.9L684.7 252.5L696.6 254.7L708.4 257.6L720.2 261.3L732.1 265.4L743.9 270.7L755.8 277.3L767.6 283.9L779.5 290.5L791.3 297L803.2 303.1L815 308.9L826.9 314.9L838.7 320.7L850.5 326.4L862.4 332.4L874.2 338.9L886.1 345.4L897.9 351.6L909.8 358.4L921.6 365.9L933.5 374.2L945.3 384.1L957.1 395.4L969 410.1L980.8 426.5L992.7 445.5L1004.5 464.1L1016.4 480.7L1028.2 496.1L1040.1 509.8L1051.9 522.1L1063.8 532.8L1075.6 543.5L1087.4 553.8L1099.3 564.2L1111.1 574.7L1123 585.1L1134.8 596.3L1146.7 607.7L1158.5 620.9L1170.4 634.1L1182.2 649.1L1194 664.7L1205.9 681.1L1217.7 697.6L1229.6 713.6L1241.4 729.1L1253.3 744.1L1265.1 757.3L1277 770.1L1288.8 780.8L1300.6 790.9" fill="none" stroke="#ff00ff" stroke-width="1.6" stroke-linejoin="round"/>
<path d="M234.6 345.5l7.2 -12.6h-14.4zM246.4 341.2l7.2 -12.6h-14.4zM258.3 337l7.2 -12.6h-14.4zM270.1 332.9l7.2 -12.6h-14.4zM282 328.9l7.2 -12.6h-14.4zM293.8 324.8l7.2 -12.6h-14.4zM305.7 320.7l7.2 -12.6h-14.4zM317.5 316.6l7.2 -12.6h-14.4zM329.4 312.6l7.2 -12.6h-14.4zM341.2 308.5l7.2 -12.6h-14.4zM353.1 304.5l7.2 -12.6h-14.4zM364.9 300.4l7.2 -12.6h-14.4zM376.7 296.3l7.2 -12.6h-14.4zM388.6 292.2l7.2 -12.6h-14.4zM400.4 288.3l7.2 -12.6h-14.4zM412.3 284.6l7.2 -12.6h-14.4zM424.1 281.4l7.2 -12.6h-14.4zM436 278.5l7.2 -12.6h-14.4zM447.8 275.5l7.2 -12.6h-14.4zM459.7 272.1l7.2 -12.6h-14.4zM471.5 267.8l7.2 -12.6h-14.4zM483.3 264.9l7.2 -12.6h-14.4zM495.2 262.7l7.2 -12.6h-14.4zM507 261l7.2 -12.6h-14.4zM518.9 259.6l7.2 -12.6h-14.4zM530.7 258.4l7.2 -12.6h-14.4zM542.6 257.4l7.2 -12.6h-14.4zM554.4 256.6l7.2 -12.6h-14.4zM566.3 256l7.2 -12.6h-14.4zM578.1 255.5l7.2 -12.6h-14.4zM590 255.2l7.2 -12.6h-14.4zM601.8 255.2l7.2 -12.6h-14.4zM613.6 255.2l7.2 -12.6h-14.4zM625.5 255.5l7.2 -12.6h-14.4zM637.3 256.2l7.2 -12.6h-14.4zM649.2 257.1l7.2 -12.6h-14.4zM661 258.1l7.2 -12.6h-14.4zM672.9 259.3l7.2 -12.6h-14.4zM684.7 260.9l7.2 -12.6h-14.4zM696.6 263.1l7.2 -12.6h-14.4zM708.4 266l7.2 -12.6h-14.4zM720.2 269.7l7.2 -12.6h-14.4zM732.1 273.8l7.2 -12.6h-14.4zM743.9 279.1l7.2 -12.6h-14.4zM755.8 285.7l7.2 -12.6h-14.4zM767.6 292.3l7.2 -12.6h-14.4zM779.5 298.9l7.2 -12.6h-14.4zM791.3 305.4l7.2 -12.6h-14.4zM803.2 311.5l7.2 -12.6h-14.4zM815 317.3l7.2 -12.6h-14.4zM826.9 323.3l7.2 -12.6h-14.4zM838.7 329.1l7.2 -12.6h-14.4zM850.5 334.8l7.2 -12.6h-14.4zM862.4 340.8l7.2 -12.6h-14.4zM874.2 347.3l7.2 -12.6h-14.4zM886.1 353.8l7.2 -12.6h-14.4zM897.9 360l7.2 -12.6h-14.4zM909.8 366.8l7.2 -12.6h-14.4zM921.6 374.3l7.2 -12.6h-14.4zM933.5 382.6l7.2 -12.6h-14.4zM945.3 392.5l7.2 -12.6h-14.4zM957.1 403.8l7.2 -12.6h-14.4zM969 418.5l7.2 -12.6h-14.4zM980.8 434.9l7.2 -12.6h-14.4zM992.7 453.9l7.2 -12.6h-14.4zM1004.5 472.5l7.2 -12.6h-14.4zM1016.4 489.1l7.2 -12.6h-14.4zM1028.2 504.5l7.2 -12.6h-14.4zM1040.1 518.2l7.2 -12.6h-14.4zM1051.9 530.5l7.2 -12.6h-14.4zM1063.8 541.2l7.2 -12.6h-14.4zM1075.6 551.9l7.2 -12.6h-14.4zM1087.4 562.2l7.2 -12.6h-14.4zM1099.3 572.6l7.2 -12.6h-14.4zM1111.1 583.1l7.2 -12.6h-14.4zM1123 593.5l7.2 -12.6h-14.4zM1134.8 604.7l7.2 -12.6h-14.4zM1146.7 616.1l7.2 -12.6h-14.4zM1158.5 629.3l7.2 -12.6h-14.4zM1170.4 642.5l7.2 -12.6h-14.4zM1182.2 657.5l7.2 -12.6h-14.4zM1194 673.1l7.2 -12.6h-14.4zM1205.9 689.5l7.2 -12.6h-14.4zM1217.7 706l7.2 -12.6h-14.4zM1229.6 722l7.2 -12.6h-14.4zM1241.4 737.5l7.2 -12.6h-14.4zM1253.3 752.5l7.2 -12.6h-14.4zM1265.1 765.7l7.2 -12.6h-14.4zM1277 778.5l7.2 -12.6h-14.4zM1288.8 789.2l7.2 -12.6h-14.4zM1300.6 799.3l7.2 -12.6h-14.4z" fill="#ff00ff"/>
<path d="M234.6 480.5L246.4 474.8L258.3 468.8L270.1 463L282 457L293.8 450.4L305.7 443.8L317.5 438L329.4 432.2L341.2 426L353.1 419.7L364.9 413.3L376.7 407.1L388.6 400.3L400.4 393L412.3 386.1L424.1 379.8L436 373.4L447.8 367L459.7 360.8L471.5 354.8L483.3 349.6L495.2 344.8L507 339.8L518.9 335.5L530.7 331.7L542.6 328.1L554.4 325L566.3 322.2L578.1 319.5L590 317L601.8 314.7L613.6 312.6L625.5 310.8L637.3 309.1L649.2 307.6L661 306.3L672.9 305L684.7 303.9L696.6 303.1L708.4 302.5L720.2 302.5L732.1 302.5L743.9 302.8L755.8 303.3L767.6 304.1L779.5 305.3L791.3 306.8L803.2 308.7L815 310.6L826.9 312.9L838.7 316L850.5 319.2L862.4 322.3L874.2 325.6L886.1 328.9L897.9 332.6L909.8 336.8L921.6 341.5L933.5 346.9L945.3 353.3L957.1 360.3L969 369.3L980.8 381L992.7 393L1004.5 406.4L1016.4 417.9L1028.2 428.2L1040.1 438L1051.9 446.8L1063.8 454.9L1075.6 462.6L1087.4 470L1099.3 477.5L1111.1 485L1123 493.1L1134.8 501.6L1146.7 510.8L1158.5 520.6L1170.4 531.7L1182.2 543.3L1194 555.2L1205.9 568L1217.7 581.4L1229.6 594.2L1241.4 607.2L1253.3 619.2L1265.1 630.1L1277 640.1L1288.8 649L1300.6 657.4L1312.5 665.5L1324.3 673.8" fill="none" stroke="#008000" stroke-width="1.6" stroke-linejoin="round"/>
<path d="M234.6 472.8l7.8 7.8l-7.8 7.8l-7.8 -7.8zM246.4 467.1l7.8 7.8l-7.8 7.8l-7.8 -7.8zM258.3 461.1l7.8 7.8l-7.8 7.8l-7.8 -7.8zM270.1 455.2l7.8 7.8l-7.8 7.8l-7.8 -7.8zM282 449.2l7.8 7.8l-7.8 7.8l-7.8 -7.8zM293.8 442.6l7.8 7.8l-7.8 7.8l-7.8 -7.8zM305.7 436.1l7.8 7.8l-7.8 7.8l-7.8 -7.8zM317.5 430.2l7.8 7.8l-7.8 7.8l-7.8 -7.8zM329.4 424.4l7.8 7.8l-7.8 7.8l-7.8 -7.8zM341.2 418.2l7.8 7.8l-7.8 7.8l-7.8 -7.8zM353.1 411.9l7.8 7.8l-7.8 7.8l-7.8 -7.8zM364.9 405.6l7.8 7.8l-7.8 7.8l-7.8 -7.8zM376.7 399.4l7.8 7.8l-7.8 7.8l-7.8 -7.8zM388.6 392.6l7.8 7.8l-7.8 7.8l-7.8 -7.8zM400.4 385.2l7.8 7.8l-7.8 7.8l-7.8 -7.8zM412.3 378.4l7.8 7.8l-7.8 7.8l-7.8 -7.8zM424.1 372.1l7.8 7.8l-7.8 7.8l-7.8 -7.8zM436 365.6l7.8 7.8l-7.8 7.8l-7.8 -7.8zM447.8 359.2l7.8 7.8l-7.8 7.8l-7.8 -7.8zM459.7 353.1l7.8 7.8l-7.8 7.8l-7.8 -7.8zM471.5 347.1l7.8 7.8l-7.8 7.8l-7.8 -7.8zM483.3 341.9l7.8 7.8l-7.8 7.8l-7.8 -7.8zM495.2 337.1l7.8 7.8l-7.8 7.8l-7.8 -7.8zM507 332.1l7.8 7.8l-7.8 7.8l-7.8 -7.8zM518.9 327.8l7.8 7.8l-7.8 7.8l-7.8 -7.8zM530.7 323.9l7.8 7.8l-7.8 7.8l-7.8 -7.8zM542.6 320.4l7.8 7.8l-7.8 7.8l-7.8 -7.8zM554.4 317.2l7.8 7.8l-7.8 7.8l-7.8 -7.8zM566.3 314.4l7.8 7.8l-7.8 7.8l-7.8 -7.8zM578.1 311.8l7.8 7.8l-7.8 7.8l-7.8 -7.8zM590 309.2l7.8 7.8l-7.8 7.8l-7.8 -7.8zM601.8 306.9l7.8 7.8l-7.8 7.8l-7.8 -7.8zM613.6 304.9l7.8 7.8l-7.8 7.8l-7.8 -7.8zM625.5 303.1l7.8 7.8l-7.8 7.8l-7.8 -7.8zM637.3 301.4l7.8 7.8l-7.8 7.8l-7.8 -7.8zM649.2 299.9l7.8 7.8l-7.8 7.8l-7.8 -7.8zM661 298.6l7.8 7.8l-7.8 7.8l-7.8 -7.8zM672.9 297.2l7.8 7.8l-7.8 7.8l-7.8 -7.8zM684.7 296.1l7.8 7.8l-7.8 7.8l-7.8 -7.8zM696.6 295.4l7.8 7.8l-7.8 7.8l-7.8 -7.8zM708.4 294.8l7.8 7.8l-7.8 7.8l-7.8 -7.8zM720.2 294.8l7.8 7.8l-7.8 7.8l-7.8 -7.8zM732.1 294.8l7.8 7.8l-7.8 7.8l-7.8 -7.8zM743.9 295l7.8 7.8l-7.8 7.8l-7.8 -7.8zM755.8 295.6l7.8 7.8l-7.8 7.8l-7.8 -7.8zM767.6 296.4l7.8 7.8l-7.8 7.8l-7.8 -7.8zM779.5 297.6l7.8 7.8l-7.8 7.8l-7.8 -7.8zM791.3 299.1l7.8 7.8l-7.8 7.8l-7.8 -7.8zM803.2 300.9l7.8 7.8l-7.8 7.8l-7.8 -7.8zM815 302.9l7.8 7.8l-7.8 7.8l-7.8 -7.8zM826.9 305.1l7.8 7.8l-7.8 7.8l-7.8 -7.8zM838.7 308.2l7.8 7.8l-7.8 7.8l-7.8 -7.8zM850.5 311.4l7.8 7.8l-7.8 7.8l-7.8 -7.8zM862.4 314.6l7.8 7.8l-7.8 7.8l-7.8 -7.8zM874.2 317.9l7.8 7.8l-7.8 7.8l-7.8 -7.8zM886.1 321.1l7.8 7.8l-7.8 7.8l-7.8 -7.8zM897.9 324.9l7.8 7.8l-7.8 7.8l-7.8 -7.8zM909.8 329.1l7.8 7.8l-7.8 7.8l-7.8 -7.8zM921.6 333.8l7.8 7.8l-7.8 7.8l-7.8 -7.8zM933.5 339.1l7.8 7.8l-7.8 7.8l-7.8 -7.8zM945.3 345.6l7.8 7.8l-7.8 7.8l-7.8 -7.8zM957.1 352.6l7.8 7.8l-7.8 7.8l-7.8 -7.8zM969 361.6l7.8 7.8l-7.8 7.8l-7.8 -7.8zM980.8 373.2l7.8 7.8l-7.8 7.8l-7.8 -7.8zM992.7 385.2l7.8 7.8l-7.8 7.8l-7.8 -7.8zM1004.5 398.6l7.8 7.8l-7.8 7.8l-7.8 -7.8zM1016.4 410.1l7.8 7.8l-7.8 7.8l-7.8 -7.8zM1028.2 420.4l7.8 7.8l-7.8 7.8l-7.8 -7.8zM1040.1 430.2l7.8 7.8l-7.8 7.8l-7.8 -7.8zM1051.9 439.1l7.8 7.8l-7.8 7.8l-7.8 -7.8zM1063.8 447.1l7.8 7.8l-7.8 7.8l-7.8 -7.8zM1075.6 454.9l7.8 7.8l-7.8 7.8l-7.8 -7.8zM1087.4 462.2l7.8 7.8l-7.8 7.8l-7.8 -7.8zM1099.3 469.8l7.8 7.8l-7.8 7.8l-7.8 -7.8zM1111.1 477.2l7.8 7.8l-7.8 7.8l-7.8 -7.8zM1123 485.4l7.8 7.8l-7.8 7.8l-7.8 -7.8zM1134.8 493.9l7.8 7.8l-7.8 7.8l-7.8 -7.8zM1146.7 503.1l7.8 7.8l-7.8 7.8l-7.8 -7.8zM1158.5 512.9l7.8 7.8l-7.8 7.8l-7.8 -7.8zM1170.4 524l7.8 7.8l-7.8 7.8l-7.8 -7.8zM1182.2 535.5l7.8 7.8l-7.8 7.8l-7.8 -7.8zM1194 547.5l7.8 7.8l-7.8 7.8l-7.8 -7.8zM1205.9 560.2l7.8 7.8l-7.8 7.8l-7.8 -7.8zM1217.7 573.6l7.8 7.8l-7.8 7.8l-7.8 -7.8zM1229.6 586.5l7.8 7.8l-7.8 7.8l-7.8 -7.8zM1241.4 599.5l7.8 7.8l-7.8 7.8l-7.8 -7.8zM1253.3 611.5l7.8 7.8l-7.8 7.8l-7.8 -7.8zM1265.1 622.4l7.8 7.8l-7.8 7.8l-7.8 -7.8zM1277 632.4l7.8 7.8l-7.8 7.8l-7.8 -7.8zM1288.8 641.2l7.8 7.8l-7.8 7.8l-7.8 -7.8zM1300.6 649.6l7.8 7.8l-7.8 7.8l-7.8 -7.8zM1312.5 657.8l7.8 7.8l-7.8 7.8l-7.8 -7.8zM1324.3 666l7.8 7.8l-7.8 7.8l-7.8 -7.8z" fill="#008000"/>
</g>
<g clip-path="url(#c3)">
<path d="M234.6 870L246.4 870.3L258.3 870.6L270.1 871L282 871.5L293.8 872L305.7 872.6L317.5 873.2L329.4 874L341.2 874.8L353.1 875.6L364.9 876.5L376.7 877.5L388.6 878.5L400.4 879.5L412.3 880.4L424.1 881.2L436 882L447.8 882.7L459.7 883.5L471.5 884.3L483.3 885.2L495.2 886.1L507 887L518.9 887.9L530.7 888.9L542.6 889.9L554.4 890.9L566.3 892L578.1 893.1L590 894.2L601.8 895.4L613.6 896.6L625.5 897.9L637.3 899.3L649.2 900.6L661 901.9L672.9 903.3L684.7 904.7L696.6 906.1L708.4 907.6L720.2 909.1L732.1 910.7L743.9 912.4L755.8 914L767.6 915.7L779.5 917.3L791.3 919L803.2 920.7L815 922.4L826.9 924.1L838.7 925.9L850.5 927.7L862.4 929.5L874.2 931.4L886.1 933.3L897.9 935.2L909.8 937.2L921.6 939.2L933.5 941.2L945.3 943.3L957.1 945.5L969 947.8L980.8 950.1L992.7 952.4L1004.5 954.8L1016.4 957.1L1028.2 959.5L1040.1 961.9L1051.9 964.3L1063.8 966.8L1075.6 969.4L1087.4 972.1L1099.3 975L1111.1 978L1123 981.2L1134.8 984.6L1146.7 988.2L1158.5 991.9L1170.4 995.6L1182.2 999.4L1194 1003.2L1205.9 1007.1L1217.7 1011L1229.6 1015.3L1241.4 1019.9L1253.3 1024.7L1265.1 1029.7L1277 1035.1L1288.8 1040.9L1300.6 1047.1L1312.5 1053.8L1324.3 1061.3" fill="none" stroke="#000000" stroke-width="1.6" stroke-linejoin="round"/>
<path d="M228.8 864.2h11.5v11.5h-11.5zM240.7 864.5h11.5v11.5h-11.5zM252.5 864.9h11.5v11.5h-11.5zM264.4 865.3h11.5v11.5h-11.5zM276.2 865.8h11.5v11.5h-11.5zM288.1 866.2h11.5v11.5h-11.5zM299.9 866.8h11.5v11.5h-11.5zM311.8 867.5h11.5v11.5h-11.5zM323.6 868.2h11.5v11.5h-11.5zM335.5 869h11.5v11.5h-11.5zM347.3 869.9h11.5v11.5h-11.5zM359.1 870.7h11.5v11.5h-11.5zM371 871.7h11.5v11.5h-11.5zM382.8 872.7h11.5v11.5h-11.5zM394.7 873.7h11.5v11.5h-11.5zM406.5 874.6h11.5v11.5h-11.5zM418.4 875.5h11.5v11.5h-11.5zM430.2 876.2h11.5v11.5h-11.5zM442.1 877h11.5v11.5h-11.5zM453.9 877.7h11.5v11.5h-11.5zM465.8 878.5h11.5v11.5h-11.5zM477.6 879.4h11.5v11.5h-11.5zM489.4 880.3h11.5v11.5h-11.5zM501.3 881.2h11.5v11.5h-11.5zM513.1 882.2h11.5v11.5h-11.5zM525 883.1h11.5v11.5h-11.5zM536.8 884.1h11.5v11.5h-11.5zM548.7 885.2h11.5v11.5h-11.5zM560.5 886.2h11.5v11.5h-11.5zM572.4 887.3h11.5v11.5h-11.5zM584.2 888.5h11.5v11.5h-11.5zM596 889.6h11.5v11.5h-11.5zM607.9 890.9h11.5v11.5h-11.5zM619.7 892.2h11.5v11.5h-11.5zM631.6 893.5h11.5v11.5h-11.5zM643.4 894.9h11.5v11.5h-11.5zM655.3 896.2h11.5v11.5h-11.5zM667.1 897.6h11.5v11.5h-11.5zM679 898.9h11.5v11.5h-11.5zM690.8 900.4h11.5v11.5h-11.5zM702.6 901.9h11.5v11.5h-11.5zM714.5 903.4h11.5v11.5h-11.5zM726.3 905h11.5v11.5h-11.5zM738.2 906.6h11.5v11.5h-11.5zM750 908.3h11.5v11.5h-11.5zM761.9 910h11.5v11.5h-11.5zM773.7 911.6h11.5v11.5h-11.5zM785.6 913.3h11.5v11.5h-11.5zM797.4 914.9h11.5v11.5h-11.5zM809.3 916.6h11.5v11.5h-11.5zM821.1 918.4h11.5v11.5h-11.5zM832.9 920.1h11.5v11.5h-11.5zM844.8 921.9h11.5v11.5h-11.5zM856.6 923.8h11.5v11.5h-11.5zM868.5 925.6h11.5v11.5h-11.5zM880.3 927.5h11.5v11.5h-11.5zM892.2 929.5h11.5v11.5h-11.5zM904 931.4h11.5v11.5h-11.5zM915.9 933.4h11.5v11.5h-11.5zM927.7 935.4h11.5v11.5h-11.5zM939.6 937.5h11.5v11.5h-11.5zM951.4 939.7h11.5v11.5h-11.5zM963.2 942h11.5v11.5h-11.5zM975.1 944.3h11.5v11.5h-11.5zM986.9 946.7h11.5v11.5h-11.5zM998.8 949h11.5v11.5h-11.5zM1010.6 951.4h11.5v11.5h-11.5zM1022.5 953.7h11.5v11.5h-11.5zM1034.3 956.1h11.5v11.5h-11.5zM1046.2 958.5h11.5v11.5h-11.5zM1058 961h11.5v11.5h-11.5zM1069.8 963.7h11.5v11.5h-11.5zM1081.7 966.4h11.5v11.5h-11.5zM1093.5 969.2h11.5v11.5h-11.5zM1105.4 972.3h11.5v11.5h-11.5zM1117.2 975.5h11.5v11.5h-11.5zM1129.1 978.9h11.5v11.5h-11.5zM1140.9 982.5h11.5v11.5h-11.5zM1152.8 986.1h11.5v11.5h-11.5zM1164.6 989.9h11.5v11.5h-11.5zM1176.5 993.6h11.5v11.5h-11.5zM1188.3 997.5h11.5v11.5h-11.5zM1200.1 1001.4h11.5v11.5h-11.5zM1212 1005.2h11.5v11.5h-11.5zM1223.8 1009.5h11.5v11.5h-11.5zM1235.7 1014.1h11.5v11.5h-11.5zM1247.5 1019h11.5v11.5h-11.5zM1259.4 1024h11.5v11.5h-11.5zM1271.2 1029.3h11.5v11.5h-11.5zM1283.1 1035.2h11.5v11.5h-11.5zM1294.9 1041.3h11.5v11.5h-11.5zM1306.7 1048h11.5v11.5h-11.5zM1318.6 1055.5h11.5v11.5h-11.5z" fill="#000000"/>
<path d="M234.6 1033L246.4 1031.6L258.3 1030.4L270.1 1029.2L282 1028.1L293.8 1027L305.7 1025.8L317.5 1024.5L329.4 1023.3L341.2 1022.2L353.1 1021L364.9 1019.8L376.7 1018.5L388.6 1017.2L400.4 1015.9L412.3 1014.6L424.1 1013.2L436 1011.9L447.8 1010.5L459.7 1009.2L471.5 1007.9L483.3 1006.6L495.2 1005.3L507 1004L518.9 1002.7L530.7 1001.3L542.6 1000L554.4 998.8L566.3 997.5L578.1 996.2L590 995L601.8 993.8L613.6 992.6L625.5 991.5L637.3 990.4L649.2 989.3L661 988.2L672.9 987.1L684.7 985.9L696.6 984.7L708.4 983.5L720.2 982.2L732.1 980.9L743.9 979.5L755.8 978.1L767.6 976.8L779.5 975.5L791.3 974.2L803.2 972.9L815 971.6L826.9 970.4L838.7 969.2L850.5 968L862.4 966.9L874.2 965.8L886.1 964.6L897.9 963.5L909.8 962.3L921.6 961.2L933.5 960L945.3 958.8L957.1 957.5L969 956.1L980.8 954.6L992.7 953.2L1004.5 951.9L1016.4 950.6L1028.2 949.4L1040.1 948.1L1051.9 947L1063.8 945.9L1075.6 944.9L1087.4 944L1099.3 943.1L1111.1 942.3L1123 941.5L1134.8 940.8L1146.7 940.1L1158.5 939.5L1170.4 938.9L1182.2 938.2L1194 937.4L1205.9 936.6L1217.7 936L1229.6 935.7L1241.4 935.5L1253.3 935.4L1265.1 935.5L1277 935.7L1288.8 936L1300.6 936.5L1312.5 937L1324.3 937.5" fill="none" stroke="#ff0000" stroke-width="1.6" stroke-linejoin="round"/>
<path d="M228.2 1033a6.4 6.4 0 1 0 12.8 0a6.4 6.4 0 1 0 -12.8 0zM240 1031.6a6.4 6.4 0 1 0 12.8 0a6.4 6.4 0 1 0 -12.8 0zM251.9 1030.4a6.4 6.4 0 1 0 12.8 0a6.4 6.4 0 1 0 -12.8 0zM263.7 1029.2a6.4 6.4 0 1 0 12.8 0a6.4 6.4 0 1 0 -12.8 0zM275.6 1028.1a6.4 6.4 0 1 0 12.8 0a6.4 6.4 0 1 0 -12.8 0zM287.4 1027a6.4 6.4 0 1 0 12.8 0a6.4 6.4 0 1 0 -12.8 0zM299.3 1025.8a6.4 6.4 0 1 0 12.8 0a6.4 6.4 0 1 0 -12.8 0zM311.1 1024.5a6.4 6.4 0 1 0 12.8 0a6.4 6.4 0 1 0 -12.8 0zM323 1023.3a6.4 6.4 0 1 0 12.8 0a6.4 6.4 0 1 0 -12.8 0zM334.8 1022.2a6.4 6.4 0 1 0 12.8 0a6.4 6.4 0 1 0 -12.8 0zM346.7 1021a6.4 6.4 0 1 0 12.8 0a6.4 6.4 0 1 0 -12.8 0zM358.5 1019.8a6.4 6.4 0 1 0 12.8 0a6.4 6.4 0 1 0 -12.8 0zM370.3 1018.5a6.4 6.4 0 1 0 12.8 0a6.4 6.4 0 1 0 -12.8 0zM382.2 1017.2a6.4 6.4 0 1 0 12.8 0a6.4 6.4 0 1 0 -12.8 0zM394 1015.9a6.4 6.4 0 1 0 12.8 0a6.4 6.4 0 1 0 -12.8 0zM405.9 1014.6a6.4 6.4 0 1 0 12.8 0a6.4 6.4 0 1 0 -12.8 0zM417.7 1013.2a6.4 6.4 0 1 0 12.8 0a6.4 6.4 0 1 0 -12.8 0zM429.6 1011.9a6.4 6.4 0 1 0 12.8 0a6.4 6.4 0 1 0 -12.8 0zM441.4 1010.5a6.4 6.4 0 1 0 12.8 0a6.4 6.4 0 1 0 -12.8 0zM453.3 1009.2a6.4 6.4 0 1 0 12.8 0a6.4 6.4 0 1 0 -12.8 0zM465.1 1007.9a6.4 6.4 0 1 0 12.8 0a6.4 6.4 0 1 0 -12.8 0zM476.9 1006.6a6.4 6.4 0 1 0 12.8 0a6.4 6.4 0 1 0 -12.8 0zM488.8 1005.3a6.4 6.4 0 1 0 12.8 0a6.4 6.4 0 1 0 -12.8 0zM500.6 1004a6.4 6.4 0 1 0 12.8 0a6.4 6.4 0 1 0 -12.8 0zM512.5 1002.7a6.4 6.4 0 1 0 12.8 0a6.4 6.4 0 1 0 -12.8 0zM524.3 1001.3a6.4 6.4 0 1 0 12.8 0a6.4 6.4 0 1 0 -12.8 0zM536.2 1000a6.4 6.4 0 1 0 12.8 0a6.4 6.4 0 1 0 -12.8 0zM548 998.8a6.4 6.4 0 1 0 12.8 0a6.4 6.4 0 1 0 -12.8 0zM559.9 997.5a6.4 6.4 0 1 0 12.8 0a6.4 6.4 0 1 0 -12.8 0zM571.7 996.2a6.4 6.4 0 1 0 12.8 0a6.4 6.4 0 1 0 -12.8 0zM583.6 995a6.4 6.4 0 1 0 12.8 0a6.4 6.4 0 1 0 -12.8 0zM595.4 993.8a6.4 6.4 0 1 0 12.8 0a6.4 6.4 0 1 0 -12.8 0zM607.2 992.6a6.4 6.4 0 1 0 12.8 0a6.4 6.4 0 1 0 -12.8 0zM619.1 991.5a6.4 6.4 0 1 0 12.8 0a6.4 6.4 0 1 0 -12.8 0zM630.9 990.4a6.4 6.4 0 1 0 12.8 0a6.4 6.4 0 1 0 -12.8 0zM642.8 989.3a6.4 6.4 0 1 0 12.8 0a6.4 6.4 0 1 0 -12.8 0zM654.6 988.2a6.4 6.4 0 1 0 12.8 0a6.4 6.4 0 1 0 -12.8 0zM666.5 987.1a6.4 6.4 0 1 0 12.8 0a6.4 6.4 0 1 0 -12.8 0zM678.3 985.9a6.4 6.4 0 1 0 12.8 0a6.4 6.4 0 1 0 -12.8 0zM690.2 984.7a6.4 6.4 0 1 0 12.8 0a6.4 6.4 0 1 0 -12.8 0zM702 983.5a6.4 6.4 0 1 0 12.8 0a6.4 6.4 0 1 0 -12.8 0zM713.8 982.2a6.4 6.4 0 1 0 12.8 0a6.4 6.4 0 1 0 -12.8 0zM725.7 980.9a6.4 6.4 0 1 0 12.8 0a6.4 6.4 0 1 0 -12.8 0zM737.5 979.5a6.4 6.4 0 1 0 12.8 0a6.4 6.4 0 1 0 -12.8 0zM749.4 978.1a6.4 6.4 0 1 0 12.8 0a6.4 6.4 0 1 0 -12.8 0zM761.2 976.8a6.4 6.4 0 1 0 12.8 0a6.4 6.4 0 1 0 -12.8 0zM773.1 975.5a6.4 6.4 0 1 0 12.8 0a6.4 6.4 0 1 0 -12.8 0zM784.9 974.2a6.4 6.4 0 1 0 12.8 0a6.4 6.4 0 1 0 -12.8 0zM796.8 972.9a6.4 6.4 0 1 0 12.8 0a6.4 6.4 0 1 0 -12.8 0zM808.6 971.6a6.4 6.4 0 1 0 12.8 0a6.4 6.4 0 1 0 -12.8 0zM820.5 970.4a6.4 6.4 0 1 0 12.8 0a6.4 6.4 0 1 0 -12.8 0zM832.3 969.2a6.4 6.4 0 1 0 12.8 0a6.4 6.4 0 1 0 -12.8 0zM844.1 968a6.4 6.4 0 1 0 12.8 0a6.4 6.4 0 1 0 -12.8 0zM856 966.9a6.4 6.4 0 1 0 12.8 0a6.4 6.4 0 1 0 -12.8 0zM867.8 965.8a6.4 6.4 0 1 0 12.8 0a6.4 6.4 0 1 0 -12.8 0zM879.7 964.6a6.4 6.4 0 1 0 12.8 0a6.4 6.4 0 1 0 -12.8 0zM891.5 963.5a6.4 6.4 0 1 0 12.8 0a6.4 6.4 0 1 0 -12.8 0zM903.4 962.3a6.4 6.4 0 1 0 12.8 0a6.4 6.4 0 1 0 -12.8 0zM915.2 961.2a6.4 6.4 0 1 0 12.8 0a6.4 6.4 0 1 0 -12.8 0zM927.1 960a6.4 6.4 0 1 0 12.8 0a6.4 6.4 0 1 0 -12.8 0zM938.9 958.8a6.4 6.4 0 1 0 12.8 0a6.4 6.4 0 1 0 -12.8 0zM950.7 957.5a6.4 6.4 0 1 0 12.8 0a6.4 6.4 0 1 0 -12.8 0zM962.6 956.1a6.4 6.4 0 1 0 12.8 0a6.4 6.4 0 1 0 -12.8 0zM974.4 954.6a6.4 6.4 0 1 0 12.8 0a6.4 6.4 0 1 0 -12.8 0zM986.3 953.2a6.4 6.4 0 1 0 12.8 0a6.4 6.4 0 1 0 -12.8 0zM998.1 951.9a6.4 6.4 0 1 0 12.8 0a6.4 6.4 0 1 0 -12.8 0zM1010 950.6a6.4 6.4 0 1 0 12.8 0a6.4 6.4 0 1 0 -12.8 0zM1021.8 949.4a6.4 6.4 0 1 0 12.8 0a6.4 6.4 0 1 0 -12.8 0zM1033.7 948.1a6.4 6.4 0 1 0 12.8 0a6.4 6.4 0 1 0 -12.8 0zM1045.5 947a6.4 6.4 0 1 0 12.8 0a6.4 6.4 0 1 0 -12.8 0zM1057.3 945.9a6.4 6.4 0 1 0 12.8 0a6.4 6.4 0 1 0 -12.8 0zM1069.2 944.9a6.4 6.4 0 1 0 12.8 0a6.4 6.4 0 1 0 -12.8 0zM1081 944a6.4 6.4 0 1 0 12.8 0a6.4 6.4 0 1 0 -12.8 0zM1092.9 943.1a6.4 6.4 0 1 0 12.8 0a6.4 6.4 0 1 0 -12.8 0zM1104.7 942.3a6.4 6.4 0 1 0 12.8 0a6.4 6.4 0 1 0 -12.8 0zM1116.6 941.5a6.4 6.4 0 1 0 12.8 0a6.4 6.4 0 1 0 -12.8 0zM1128.4 940.8a6.4 6.4 0 1 0 12.8 0a6.4 6.4 0 1 0 -12.8 0zM1140.3 940.1a6.4 6.4 0 1 0 12.8 0a6.4 6.4 0 1 0 -12.8 0zM1152.1 939.5a6.4 6.4 0 1 0 12.8 0a6.4 6.4 0 1 0 -12.8 0zM1164 938.9a6.4 6.4 0 1 0 12.8 0a6.4 6.4 0 1 0 -12.8 0zM1175.8 938.2a6.4 6.4 0 1 0 12.8 0a6.4 6.4 0 1 0 -12.8 0zM1187.6 937.4a6.4 6.4 0 1 0 12.8 0a6.4 6.4 0 1 0 -12.8 0zM1199.5 936.6a6.4 6.4 0 1 0 12.8 0a6.4 6.4 0 1 0 -12.8 0zM1211.3 936a6.4 6.4 0 1 0 12.8 0a6.4 6.4 0 1 0 -12.8 0zM1223.2 935.7a6.4 6.4 0 1 0 12.8 0a6.4 6.4 0 1 0 -12.8 0zM1235 935.5a6.4 6.4 0 1 0 12.8 0a6.4 6.4 0 1 0 -12.8 0zM1246.9 935.4a6.4 6.4 0 1 0 12.8 0a6.4 6.4 0 1 0 -12.8 0zM1258.7 935.5a6.4 6.4 0 1 0 12.8 0a6.4 6.4 0 1 0 -12.8 0zM1270.6 935.7a6.4 6.4 0 1 0 12.8 0a6.4 6.4 0 1 0 -12.8 0zM1282.4 936a6.4 6.4 0 1 0 12.8 0a6.4 6.4 0 1 0 -12.8 0zM1294.2 936.5a6.4 6.4 0 1 0 12.8 0a6.4 6.4 0 1 0 -12.8 0zM1306.1 937a6.4 6.4 0 1 0 12.8 0a6.4 6.4 0 1 0 -12.8 0zM1317.9 937.5a6.4 6.4 0 1 0 12.8 0a6.4 6.4 0 1 0 -12.8 0z" fill="#ff0000"/>
<path d="M234.6 842.9L246.4 843.1L258.3 843.2L270.1 843.4L282 843.6L293.8 843.8L305.7 844L317.5 844.2L329.4 844.4L341.2 844.6L353.1 844.8L364.9 845L376.7 845.2L388.6 845.5L400.4 845.7L412.3 845.9L424.1 846.2L436 846.4L447.8 846.7L459.7 847L471.5 847.3L483.3 847.6L495.2 848L507 848.4L518.9 848.7L530.7 849.1L542.6 849.5L554.4 849.8L566.3 850.2L578.1 850.6L590 851L601.8 851.4L613.6 851.9L625.5 852.4L637.3 853L649.2 853.5L661 854.1L672.9 854.7L684.7 855.3L696.6 856L708.4 856.6L720.2 857.2L732.1 857.8L743.9 858.4L755.8 859L767.6 859.6L779.5 860.2L791.3 860.8L803.2 861.4L815 862.1L826.9 862.8L838.7 863.6L850.5 864.3L862.4 865.2L874.2 866.1L886.1 867L897.9 868L909.8 869L921.6 870.1L933.5 871.3L945.3 872.4L957.1 873.5L969 874.7L980.8 875.8L992.7 877L1004.5 878.3L1016.4 879.7L1028.2 881.1L1040.1 882.6L1051.9 884.2L1063.8 885.8L1075.6 887.5L1087.4 889.2L1099.3 891L1111.1 892.8L1123 894.7L1134.8 896.6L1146.7 898.7L1158.5 900.9L1170.4 903.1L1182.2 905.3L1194 907.3L1205.9 909.3L1217.7 911.5L1229.6 914.4L1241.4 917.4L1253.3 920.7L1265.1 924.1L1277 927.7L1288.8 931.7L1300.6 936L1312.5 940.7L1324.3 945.9" fill="none" stroke="#0000ff" stroke-width="1.6" stroke-linejoin="round"/>
<path d="M234.6 834.5l7.2 12.6h-14.4zM246.4 834.7l7.2 12.6h-14.4zM258.3 834.8l7.2 12.6h-14.4zM270.1 835l7.2 12.6h-14.4zM282 835.2l7.2 12.6h-14.4zM293.8 835.4l7.2 12.6h-14.4zM305.7 835.6l7.2 12.6h-14.4zM317.5 835.8l7.2 12.6h-14.4zM329.4 836l7.2 12.6h-14.4zM341.2 836.2l7.2 12.6h-14.4zM353.1 836.4l7.2 12.6h-14.4zM364.9 836.6l7.2 12.6h-14.4zM376.7 836.8l7.2 12.6h-14.4zM388.6 837.1l7.2 12.6h-14.4zM400.4 837.3l7.2 12.6h-14.4zM412.3 837.5l7.2 12.6h-14.4zM424.1 837.8l7.2 12.6h-14.4zM436 838l7.2 12.6h-14.4zM447.8 838.3l7.2 12.6h-14.4zM459.7 838.6l7.2 12.6h-14.4zM471.5 838.9l7.2 12.6h-14.4zM483.3 839.2l7.2 12.6h-14.4zM495.2 839.6l7.2 12.6h-14.4zM507 840l7.2 12.6h-14.4zM518.9 840.3l7.2 12.6h-14.4zM530.7 840.7l7.2 12.6h-14.4zM542.6 841.1l7.2 12.6h-14.4zM554.4 841.4l7.2 12.6h-14.4zM566.3 841.8l7.2 12.6h-14.4zM578.1 842.2l7.2 12.6h-14.4zM590 842.6l7.2 12.6h-14.4zM601.8 843l7.2 12.6h-14.4zM613.6 843.5l7.2 12.6h-14.4zM625.5 844l7.2 12.6h-14.4zM637.3 844.6l7.2 12.6h-14.4zM649.2 845.1l7.2 12.6h-14.4zM661 845.7l7.2 12.6h-14.4zM672.9 846.3l7.2 12.6h-14.4zM684.7 846.9l7.2 12.6h-14.4zM696.6 847.6l7.2 12.6h-14.4zM708.4 848.2l7.2 12.6h-14.4zM720.2 848.8l7.2 12.6h-14.4zM732.1 849.4l7.2 12.6h-14.4zM743.9 850l7.2 12.6h-14.4zM755.8 850.6l7.2 12.6h-14.4zM767.6 851.2l7.2 12.6h-14.4zM779.5 851.8l7.2 12.6h-14.4zM791.3 852.4l7.2 12.6h-14.4zM803.2 853l7.2 12.6h-14.4zM815 853.7l7.2 12.6h-14.4zM826.9 854.4l7.2 12.6h-14.4zM838.7 855.2l7.2 12.6h-14.4zM850.5 855.9l7.2 12.6h-14.4zM862.4 856.8l7.2 12.6h-14.4zM874.2 857.7l7.2 12.6h-14.4zM886.1 858.6l7.2 12.6h-14.4zM897.9 859.6l7.2 12.6h-14.4zM909.8 860.6l7.2 12.6h-14.4zM921.6 861.7l7.2 12.6h-14.4zM933.5 862.9l7.2 12.6h-14.4zM945.3 864l7.2 12.6h-14.4zM957.1 865.1l7.2 12.6h-14.4zM969 866.3l7.2 12.6h-14.4zM980.8 867.4l7.2 12.6h-14.4zM992.7 868.6l7.2 12.6h-14.4zM1004.5 869.9l7.2 12.6h-14.4zM1016.4 871.3l7.2 12.6h-14.4zM1028.2 872.7l7.2 12.6h-14.4zM1040.1 874.2l7.2 12.6h-14.4zM1051.9 875.8l7.2 12.6h-14.4zM1063.8 877.4l7.2 12.6h-14.4zM1075.6 879.1l7.2 12.6h-14.4zM1087.4 880.8l7.2 12.6h-14.4zM1099.3 882.6l7.2 12.6h-14.4zM1111.1 884.4l7.2 12.6h-14.4zM1123 886.3l7.2 12.6h-14.4zM1134.8 888.2l7.2 12.6h-14.4zM1146.7 890.3l7.2 12.6h-14.4zM1158.5 892.5l7.2 12.6h-14.4zM1170.4 894.7l7.2 12.6h-14.4zM1182.2 896.9l7.2 12.6h-14.4zM1194 898.9l7.2 12.6h-14.4zM1205.9 900.9l7.2 12.6h-14.4zM1217.7 903.1l7.2 12.6h-14.4zM1229.6 906l7.2 12.6h-14.4zM1241.4 909l7.2 12.6h-14.4zM1253.3 912.3l7.2 12.6h-14.4zM1265.1 915.7l7.2 12.6h-14.4zM1277 919.3l7.2 12.6h-14.4zM1288.8 923.3l7.2 12.6h-14.4zM1300.6 927.6l7.2 12.6h-14.4zM1312.5 932.3l7.2 12.6h-14.4zM1324.3 937.5l7.2 12.6h-14.4z" fill="#0000ff"/>
<path d="M234.6 829.5L246.4 829.6L258.3 829.6L270.1 829.7L282 829.8L293.8 829.9L305.7 830L317.5 830.1L329.4 830.2L341.2 830.3L353.1 830.4L364.9 830.5L376.7 830.7L388.6 830.8L400.4 831L412.3 831.1L424.1 831.3L436 831.5L447.8 831.7L459.7 831.9L471.5 832.1L483.3 832.4L495.2 832.7L507 833L518.9 833.3L530.7 833.6L542.6 833.9L554.4 834.1L566.3 834.4L578.1 834.7L590 835L601.8 835.3L613.6 835.7L625.5 836.1L637.3 836.5L649.2 836.9L661 837.3L672.9 837.7L684.7 838.2L696.6 838.6L708.4 839.1L720.2 839.6L732.1 840.2L743.9 840.8L755.8 841.5L767.6 842.1L779.5 842.7L791.3 843.4L803.2 844.1L815 844.8L826.9 845.5L838.7 846.3L850.5 847.1L862.4 847.9L874.2 848.7L886.1 849.6L897.9 850.5L909.8 851.3L921.6 852.2L933.5 853.2L945.3 854.1L957.1 855L969 856L980.8 857L992.7 858L1004.5 859.1L1016.4 860.3L1028.2 861.5L1040.1 862.8L1051.9 864.2L1063.8 865.6L1075.6 867L1087.4 868.5L1099.3 870L1111.1 871.6L1123 873.2L1134.8 874.9L1146.7 876.7L1158.5 878.7L1170.4 880.9L1182.2 883.2L1194 885.5L1205.9 887.9L1217.7 890.5L1229.6 893.1L1241.4 895.8L1253.3 898.6L1265.1 901.7L1277 905.5L1288.8 909.4L1300.6 913.5L1312.5 918.3L1324.3 923.7" fill="none" stroke="#ff00ff" stroke-width="1.6" stroke-linejoin="round"/>
<path d="M234.6 837.9l7.2 -12.6h-14.4zM246.4 838l7.2 -12.6h-14.4zM258.3 838l7.2 -12.6h-14.4zM270.1 838.1l7.2 -12.6h-14.4zM282 838.2l7.2 -12.6h-14.4zM293.8 838.3l7.2 -12.6h-14.4zM305.7 838.4l7.2 -12.6h-14.4zM317.5 838.5l7.2 -12.6h-14.4zM329.4 838.6l7.2 -12.6h-14.4zM341.2 838.7l7.2 -12.6h-14.4zM353.1 838.8l7.2 -12.6h-14.4zM364.9 838.9l7.2 -12.6h-14.4zM376.7 839.1l7.2 -12.6h-14.4zM388.6 839.2l7.2 -12.6h-14.4zM400.4 839.4l7.2 -12.6h-14.4zM412.3 839.5l7.2 -12.6h-14.4zM424.1 839.7l7.2 -12.6h-14.4zM436 839.9l7.2 -12.6h-14.4zM447.8 840.1l7.2 -12.6h-14.4zM459.7 840.3l7.2 -12.6h-14.4zM471.5 840.5l7.2 -12.6h-14.4zM483.3 840.8l7.2 -12.6h-14.4zM495.2 841.1l7.2 -12.6h-14.4zM507 841.4l7.2 -12.6h-14.4zM518.9 841.7l7.2 -12.6h-14.4zM530.7 842l7.2 -12.6h-14.4zM542.6 842.3l7.2 -12.6h-14.4zM554.4 842.5l7.2 -12.6h-14.4zM566.3 842.8l7.2 -12.6h-14.4zM578.1 843.1l7.2 -12.6h-14.4zM590 843.4l7.2 -12.6h-14.4zM601.8 843.7l7.2 -12.6h-14.4zM613.6 844.1l7.2 -12.6h-14.4zM625.5 844.5l7.2 -12.6h-14.4zM637.3 844.9l7.2 -12.6h-14.4zM649.2 845.3l7.2 -12.6h-14.4zM661 845.7l7.2 -12.6h-14.4zM672.9 846.1l7.2 -12.6h-14.4zM684.7 846.6l7.2 -12.6h-14.4zM696.6 847l7.2 -12.6h-14.4zM708.4 847.5l7.2 -12.6h-14.4zM720.2 848l7.2 -12.6h-14.4zM732.1 848.6l7.2 -12.6h-14.4zM743.9 849.2l7.2 -12.6h-14.4zM755.8 849.9l7.2 -12.6h-14.4zM767.6 850.5l7.2 -12.6h-14.4zM779.5 851.1l7.2 -12.6h-14.4zM791.3 851.8l7.2 -12.6h-14.4zM803.2 852.5l7.2 -12.6h-14.4zM815 853.2l7.2 -12.6h-14.4zM826.9 853.9l7.2 -12.6h-14.4zM838.7 854.7l7.2 -12.6h-14.4zM850.5 855.5l7.2 -12.6h-14.4zM862.4 856.3l7.2 -12.6h-14.4zM874.2 857.1l7.2 -12.6h-14.4zM886.1 858l7.2 -12.6h-14.4zM897.9 858.9l7.2 -12.6h-14.4zM909.8 859.7l7.2 -12.6h-14.4zM921.6 860.6l7.2 -12.6h-14.4zM933.5 861.6l7.2 -12.6h-14.4zM945.3 862.5l7.2 -12.6h-14.4zM957.1 863.4l7.2 -12.6h-14.4zM969 864.4l7.2 -12.6h-14.4zM980.8 865.4l7.2 -12.6h-14.4zM992.7 866.4l7.2 -12.6h-14.4zM1004.5 867.5l7.2 -12.6h-14.4zM1016.4 868.7l7.2 -12.6h-14.4zM1028.2 869.9l7.2 -12.6h-14.4zM1040.1 871.2l7.2 -12.6h-14.4zM1051.9 872.6l7.2 -12.6h-14.4zM1063.8 874l7.2 -12.6h-14.4zM1075.6 875.4l7.2 -12.6h-14.4zM1087.4 876.9l7.2 -12.6h-14.4zM1099.3 878.4l7.2 -12.6h-14.4zM1111.1 880l7.2 -12.6h-14.4zM1123 881.6l7.2 -12.6h-14.4zM1134.8 883.3l7.2 -12.6h-14.4zM1146.7 885.1l7.2 -12.6h-14.4zM1158.5 887.1l7.2 -12.6h-14.4zM1170.4 889.3l7.2 -12.6h-14.4zM1182.2 891.6l7.2 -12.6h-14.4zM1194 893.9l7.2 -12.6h-14.4zM1205.9 896.3l7.2 -12.6h-14.4zM1217.7 898.9l7.2 -12.6h-14.4zM1229.6 901.5l7.2 -12.6h-14.4zM1241.4 904.2l7.2 -12.6h-14.4zM1253.3 907l7.2 -12.6h-14.4zM1265.1 910.1l7.2 -12.6h-14.4zM1277 913.9l7.2 -12.6h-14.4zM1288.8 917.8l7.2 -12.6h-14.4zM1300.6 921.9l7.2 -12.6h-14.4zM1312.5 926.7l7.2 -12.6h-14.4zM1324.3 932.1l7.2 -12.6h-14.4z" fill="#ff00ff"/>
<path d="M234.6 872.8L246.4 872.6L258.3 872.4L270.1 872.2L282 872L293.8 871.8L305.7 871.6L317.5 871.3L329.4 871L341.2 870.8L353.1 870.5L364.9 870.2L376.7 869.9L388.6 869.7L400.4 869.4L412.3 869.2L424.1 869L436 868.9L447.8 868.7L459.7 868.6L471.5 868.5L483.3 868.4L495.2 868.3L507 868.3L518.9 868.2L530.7 868.1L542.6 868L554.4 867.9L566.3 867.9L578.1 867.8L590 867.7L601.8 867.6L613.6 867.5L625.5 867.4L637.3 867.3L649.2 867.2L661 867.2L672.9 867.1L684.7 867.1L696.6 867.1L708.4 867.1L720.2 867.1L732.1 867.2L743.9 867.3L755.8 867.4L767.6 867.5L779.5 867.6L791.3 867.7L803.2 867.9L815 868L826.9 868.2L838.7 868.4L850.5 868.6L862.4 868.9L874.2 869.1L886.1 869.4L897.9 869.7L909.8 869.9L921.6 870.2L933.5 870.5L945.3 870.9L957.1 871.3L969 871.8L980.8 872.4L992.7 873L1004.5 873.6L1016.4 874.2L1028.2 874.8L1040.1 875.5L1051.9 876.2L1063.8 876.9L1075.6 877.7L1087.4 878.5L1099.3 879.4L1111.1 880.4L1123 881.4L1134.8 882.5L1146.7 883.6L1158.5 884.8L1170.4 886.1L1182.2 887.4L1194 888.8L1205.9 890.4L1217.7 892.1L1229.6 894.3L1241.4 896.6L1253.3 898.8L1265.1 901.2L1277 903.9L1288.8 906.8L1300.6 909.8L1312.5 913.3L1324.3 917.1" fill="none" stroke="#008000" stroke-width="1.6" stroke-linejoin="round"/>
<path d="M234.6 865l7.8 7.8l-7.8 7.8l-7.8 -7.8zM246.4 864.9l7.8 7.8l-7.8 7.8l-7.8 -7.8zM258.3 864.7l7.8 7.8l-7.8 7.8l-7.8 -7.8zM270.1 864.5l7.8 7.8l-7.8 7.8l-7.8 -7.8zM282 864.3l7.8 7.8l-7.8 7.8l-7.8 -7.8zM293.8 864l7.8 7.8l-7.8 7.8l-7.8 -7.8zM305.7 863.8l7.8 7.8l-7.8 7.8l-7.8 -7.8zM317.5 863.6l7.8 7.8l-7.8 7.8l-7.8 -7.8zM329.4 863.3l7.8 7.8l-7.8 7.8l-7.8 -7.8zM341.2 863l7.8 7.8l-7.8 7.8l-7.8 -7.8zM353.1 862.8l7.8 7.8l-7.8 7.8l-7.8 -7.8zM364.9 862.5l7.8 7.8l-7.8 7.8l-7.8 -7.8zM376.7 862.2l7.8 7.8l-7.8 7.8l-7.8 -7.8zM388.6 861.9l7.8 7.8l-7.8 7.8l-7.8 -7.8zM400.4 861.7l7.8 7.8l-7.8 7.8l-7.8 -7.8zM412.3 861.5l7.8 7.8l-7.8 7.8l-7.8 -7.8zM424.1 861.3l7.8 7.8l-7.8 7.8l-7.8 -7.8zM436 861.1l7.8 7.8l-7.8 7.8l-7.8 -7.8zM447.8 861l7.8 7.8l-7.8 7.8l-7.8 -7.8zM459.7 860.9l7.8 7.8l-7.8 7.8l-7.8 -7.8zM471.5 860.7l7.8 7.8l-7.8 7.8l-7.8 -7.8zM483.3 860.7l7.8 7.8l-7.8 7.8l-7.8 -7.8zM495.2 860.6l7.8 7.8l-7.8 7.8l-7.8 -7.8zM507 860.5l7.8 7.8l-7.8 7.8l-7.8 -7.8zM518.9 860.4l7.8 7.8l-7.8 7.8l-7.8 -7.8zM530.7 860.4l7.8 7.8l-7.8 7.8l-7.8 -7.8zM542.6 860.3l7.8 7.8l-7.8 7.8l-7.8 -7.8zM554.4 860.2l7.8 7.8l-7.8 7.8l-7.8 -7.8zM566.3 860.1l7.8 7.8l-7.8 7.8l-7.8 -7.8zM578.1 860l7.8 7.8l-7.8 7.8l-7.8 -7.8zM590 860l7.8 7.8l-7.8 7.8l-7.8 -7.8zM601.8 859.8l7.8 7.8l-7.8 7.8l-7.8 -7.8zM613.6 859.7l7.8 7.8l-7.8 7.8l-7.8 -7.8zM625.5 859.6l7.8 7.8l-7.8 7.8l-7.8 -7.8zM637.3 859.5l7.8 7.8l-7.8 7.8l-7.8 -7.8zM649.2 859.5l7.8 7.8l-7.8 7.8l-7.8 -7.8zM661 859.4l7.8 7.8l-7.8 7.8l-7.8 -7.8zM672.9 859.4l7.8 7.8l-7.8 7.8l-7.8 -7.8zM684.7 859.4l7.8 7.8l-7.8 7.8l-7.8 -7.8zM696.6 859.4l7.8 7.8l-7.8 7.8l-7.8 -7.8zM708.4 859.4l7.8 7.8l-7.8 7.8l-7.8 -7.8zM720.2 859.4l7.8 7.8l-7.8 7.8l-7.8 -7.8zM732.1 859.4l7.8 7.8l-7.8 7.8l-7.8 -7.8zM743.9 859.5l7.8 7.8l-7.8 7.8l-7.8 -7.8zM755.8 859.6l7.8 7.8l-7.8 7.8l-7.8 -7.8zM767.6 859.8l7.8 7.8l-7.8 7.8l-7.8 -7.8zM779.5 859.9l7.8 7.8l-7.8 7.8l-7.8 -7.8zM791.3 860l7.8 7.8l-7.8 7.8l-7.8 -7.8zM803.2 860.1l7.8 7.8l-7.8 7.8l-7.8 -7.8zM815 860.3l7.8 7.8l-7.8 7.8l-7.8 -7.8zM826.9 860.5l7.8 7.8l-7.8 7.8l-7.8 -7.8zM838.7 860.6l7.8 7.8l-7.8 7.8l-7.8 -7.8zM850.5 860.9l7.8 7.8l-7.8 7.8l-7.8 -7.8zM862.4 861.1l7.8 7.8l-7.8 7.8l-7.8 -7.8zM874.2 861.4l7.8 7.8l-7.8 7.8l-7.8 -7.8zM886.1 861.6l7.8 7.8l-7.8 7.8l-7.8 -7.8zM897.9 861.9l7.8 7.8l-7.8 7.8l-7.8 -7.8zM909.8 862.2l7.8 7.8l-7.8 7.8l-7.8 -7.8zM921.6 862.5l7.8 7.8l-7.8 7.8l-7.8 -7.8zM933.5 862.8l7.8 7.8l-7.8 7.8l-7.8 -7.8zM945.3 863.1l7.8 7.8l-7.8 7.8l-7.8 -7.8zM957.1 863.6l7.8 7.8l-7.8 7.8l-7.8 -7.8zM969 864.1l7.8 7.8l-7.8 7.8l-7.8 -7.8zM980.8 864.7l7.8 7.8l-7.8 7.8l-7.8 -7.8zM992.7 865.3l7.8 7.8l-7.8 7.8l-7.8 -7.8zM1004.5 865.9l7.8 7.8l-7.8 7.8l-7.8 -7.8zM1016.4 866.5l7.8 7.8l-7.8 7.8l-7.8 -7.8zM1028.2 867.1l7.8 7.8l-7.8 7.8l-7.8 -7.8zM1040.1 867.7l7.8 7.8l-7.8 7.8l-7.8 -7.8zM1051.9 868.4l7.8 7.8l-7.8 7.8l-7.8 -7.8zM1063.8 869.1l7.8 7.8l-7.8 7.8l-7.8 -7.8zM1075.6 869.9l7.8 7.8l-7.8 7.8l-7.8 -7.8zM1087.4 870.8l7.8 7.8l-7.8 7.8l-7.8 -7.8zM1099.3 871.7l7.8 7.8l-7.8 7.8l-7.8 -7.8zM1111.1 872.6l7.8 7.8l-7.8 7.8l-7.8 -7.8zM1123 873.6l7.8 7.8l-7.8 7.8l-7.8 -7.8zM1134.8 874.7l7.8 7.8l-7.8 7.8l-7.8 -7.8zM1146.7 875.8l7.8 7.8l-7.8 7.8l-7.8 -7.8zM1158.5 877l7.8 7.8l-7.8 7.8l-7.8 -7.8zM1170.4 878.3l7.8 7.8l-7.8 7.8l-7.8 -7.8zM1182.2 879.6l7.8 7.8l-7.8 7.8l-7.8 -7.8zM1194 881.1l7.8 7.8l-7.8 7.8l-7.8 -7.8zM1205.9 882.6l7.8 7.8l-7.8 7.8l-7.8 -7.8zM1217.7 884.4l7.8 7.8l-7.8 7.8l-7.8 -7.8zM1229.6 886.5l7.8 7.8l-7.8 7.8l-7.8 -7.8zM1241.4 888.9l7.8 7.8l-7.8 7.8l-7.8 -7.8zM1253.3 891l7.8 7.8l-7.8 7.8l-7.8 -7.8zM1265.1 893.5l7.8 7.8l-7.8 7.8l-7.8 -7.8zM1277 896.1l7.8 7.8l-7.8 7.8l-7.8 -7.8zM1288.8 899l7.8 7.8l-7.8 7.8l-7.8 -7.8zM1300.6 902l7.8 7.8l-7.8 7.8l-7.8 -7.8zM1312.5 905.5l7.8 7.8l-7.8 7.8l-7.8 -7.8zM1324.3 909.4l7.8 7.8l-7.8 7.8l-7.8 -7.8z" fill="#008000"/>
</g>
<text transform="translate(148.08 52.66) scale(0.9699 1)" font-family="Liberation Sans, sans-serif" font-weight="bold" font-size="34.49">10</text>
<text transform="translate(185.45 33.80) scale(0.9282 1)" font-family="Liberation Sans, sans-serif" font-weight="bold" font-size="22.08">-11</text>
<text transform="translate(148.23 142.86) scale(0.9699 1)" font-family="Liberation Sans, sans-serif" font-weight="bold" font-size="34.49">10</text>
<text transform="translate(185.60 124.00) scale(0.9282 1)" font-family="Liberation Sans, sans-serif" font-weight="bold" font-size="22.08">-13</text>
<text transform="translate(159.71 288.56) scale(0.9699 1)" font-family="Liberation Sans, sans-serif" font-weight="bold" font-size="34.49">10</text>
<text transform="translate(197.08 269.70) scale(0.9282 1)" font-family="Liberation Sans, sans-serif" font-weight="bold" font-size="22.08">-2</text>
<text transform="translate(159.04 378.78) scale(0.9699 1)" font-family="Liberation Sans, sans-serif" font-weight="bold" font-size="34.49">10</text>
<text transform="translate(196.41 359.92) scale(0.9282 1)" font-family="Liberation Sans, sans-serif" font-weight="bold" font-size="22.08">-4</text>
<text transform="translate(159.66 469.00) scale(0.9699 1)" font-family="Liberation Sans, sans-serif" font-weight="bold" font-size="34.49">10</text>
<text transform="translate(197.03 450.14) scale(0.9282 1)" font-family="Liberation Sans, sans-serif" font-weight="bold" font-size="22.08">-6</text>
<text transform="translate(159.56 559.22) scale(0.9699 1)" font-family="Liberation Sans, sans-serif" font-weight="bold" font-size="34.49">10</text>
<text transform="translate(196.93 540.36) scale(0.9282 1)" font-family="Liberation Sans, sans-serif" font-weight="bold" font-size="22.08">-8</text>
<text transform="translate(148.34 649.44) scale(0.9699 1)" font-family="Liberation Sans, sans-serif" font-weight="bold" font-size="34.49">10</text>
<text transform="translate(185.71 630.58) scale(0.9282 1)" font-family="Liberation Sans, sans-serif" font-weight="bold" font-size="22.08">-10</text>
<text transform="translate(148.28 739.66) scale(0.9699 1)" font-family="Liberation Sans, sans-serif" font-weight="bold" font-size="34.49">10</text>
<text transform="translate(185.65 720.80) scale(0.9282 1)" font-family="Liberation Sans, sans-serif" font-weight="bold" font-size="22.08">-12</text>
<text transform="translate(159.71 872.66) scale(0.9699 1)" font-family="Liberation Sans, sans-serif" font-weight="bold" font-size="34.49">10</text>
<text transform="translate(197.08 853.80) scale(0.9282 1)" font-family="Liberation Sans, sans-serif" font-weight="bold" font-size="22.08">-2</text>
<text transform="translate(159.04 962.88) scale(0.9699 1)" font-family="Liberation Sans, sans-serif" font-weight="bold" font-size="34.49">10</text>
<text transform="translate(196.41 944.02) scale(0.9282 1)" font-family="Liberation Sans, sans-serif" font-weight="bold" font-size="22.08">-4</text>
<text transform="translate(159.66 1053.10) scale(0.9699 1)" font-family="Liberation Sans, sans-serif" font-weight="bold" font-size="34.49">10</text>
<text transform="translate(197.03 1034.24) scale(0.9282 1)" font-family="Liberation Sans, sans-serif" font-weight="bold" font-size="22.08">-6</text>
<text transform="translate(159.56 1143.32) scale(0.9699 1)" font-family="Liberation Sans, sans-serif" font-weight="bold" font-size="34.49">10</text>
<text transform="translate(196.93 1124.46) scale(0.9282 1)" font-family="Liberation Sans, sans-serif" font-weight="bold" font-size="22.08">-8</text>
<text transform="translate(148.34 1233.54) scale(0.9699 1)" font-family="Liberation Sans, sans-serif" font-weight="bold" font-size="34.49">10</text>
<text transform="translate(185.71 1214.68) scale(0.9282 1)" font-family="Liberation Sans, sans-serif" font-weight="bold" font-size="22.08">-10</text>
<text transform="translate(148.28 1323.76) scale(0.9699 1)" font-family="Liberation Sans, sans-serif" font-weight="bold" font-size="34.49">10</text>
<text transform="translate(185.65 1304.90) scale(0.9282 1)" font-family="Liberation Sans, sans-serif" font-weight="bold" font-size="22.08">-12</text>
<text transform="translate(201.70 1411.86) scale(1.0016 1)" font-family="Liberation Sans, sans-serif" font-weight="bold" font-size="33.78">0.40</text>
<text transform="translate(436.09 1411.86) scale(1.0016 1)" font-family="Liberation Sans, sans-serif" font-weight="bold" font-size="33.78">0.42</text>
<text transform="translate(669.98 1411.86) scale(1.0016 1)" font-family="Liberation Sans, sans-serif" font-weight="bold" font-size="33.78">0.44</text>
<text transform="translate(904.93 1411.86) scale(1.0016 1)" font-family="Liberation Sans, sans-serif" font-weight="bold" font-size="33.78">0.46</text>
<text transform="translate(1139.29 1411.86) scale(1.0016 1)" font-family="Liberation Sans, sans-serif" font-weight="bold" font-size="33.78">0.48</text>
<text transform="translate(803.32 1453.90) scale(1.0086 1)" font-family="Liberation Sans, sans-serif" font-weight="bold" font-size="44.36">Y</text>
<text transform="translate(831.02 1471.24) scale(1.0388 1)" font-family="Liberation Sans, sans-serif" font-weight="bold" font-size="25.94">e</text>
<g transform="translate(92.3 481.6)"><path d="M-13.1 0.2C-9.5 -1.4 -5 -2.9 -3.1 -3.5C0.5 -4.6 4 -5.6 5.9 -6.5C7.6 -7.2 8.6 -7.9 8.9 -8.6C9.6 -10.3 8.2 -12.2 5.7 -14.2C9.2 -12.8 11.8 -10.4 13.1 -8.2C13.6 -7.3 13.6 -6.5 13.4 -5.8C13.2 -4.4 12.7 -3.3 11.9 -2.5C10.5 -1.2 8 -0.3 5.9 0.5C2.5 1.6 -1 2.5 -3.1 3.2C-5.6 4 -7.4 4.7 -8.6 5.3C-9.6 5.8 -9.9 6.3 -10.1 6.8L-10.9 10.4L-11.9 9.8Z" fill="#000"/><path d="M-8.6 -11.2C-7.6 -8.6 -5.6 -6.3 -2.5 -3.6C0.5 -1 3 1.3 5 3.2C7.3 5.4 8.9 7 9.2 9.4" fill="none" stroke="#000" stroke-width="1.9" stroke-linecap="round"/><path d="M-13.1 -13.4A3.1 3.1 0 1 1 -7.0 -12.8C-7.3 -11.5 -7.6 -10.4 -6.6 -8.6L-8.0 -7.6C-9.5 -9.3 -11 -10 -12 -11.1C-12.7 -11.8 -13.1 -12.6 -13.1 -13.4Z" fill="#000"/><path d="M13.0 11.9A3.1 3.1 0 1 1 7.0 11.0C7.3 9.8 7.9 8.6 7.4 6.9L9.0 6.2C10.4 7.8 11.9 8.6 12.5 9.8C12.9 10.5 13.0 11.2 13.0 11.9Z" fill="#000"/></g>
<g transform="translate(92.3 1067.8)"><path d="M-13.1 0.2C-9.5 -1.4 -5 -2.9 -3.1 -3.5C0.5 -4.6 4 -5.6 5.9 -6.5C7.6 -7.2 8.6 -7.9 8.9 -8.6C9.6 -10.3 8.2 -12.2 5.7 -14.2C9.2 -12.8 11.8 -10.4 13.1 -8.2C13.6 -7.3 13.6 -6.5 13.4 -5.8C13.2 -4.4 12.7 -3.3 11.9 -2.5C10.5 -1.2 8 -0.3 5.9 0.5C2.5 1.6 -1 2.5 -3.1 3.2C-5.6 4 -7.4 4.7 -8.6 5.3C-9.6 5.8 -9.9 6.3 -10.1 6.8L-10.9 10.4L-11.9 9.8Z" fill="#000"/><path d="M-8.6 -11.2C-7.6 -8.6 -5.6 -6.3 -2.5 -3.6C0.5 -1 3 1.3 5 3.2C7.3 5.4 8.9 7 9.2 9.4" fill="none" stroke="#000" stroke-width="1.9" stroke-linecap="round"/><path d="M-13.1 -13.4A3.1 3.1 0 1 1 -7.0 -12.8C-7.3 -11.5 -7.6 -10.4 -6.6 -8.6L-8.0 -7.6C-9.5 -9.3 -11 -10 -12 -11.1C-12.7 -11.8 -13.1 -12.6 -13.1 -13.4Z" fill="#000"/><path d="M13.0 11.9A3.1 3.1 0 1 1 7.0 11.0C7.3 9.8 7.9 8.6 7.4 6.9L9.0 6.2C10.4 7.8 11.9 8.6 12.5 9.8C12.9 10.5 13.0 11.2 13.0 11.9Z" fill="#000"/></g>
<text transform="translate(347.39 58.00) scale(0.9314 1)" font-family="Liberation Sans, sans-serif" font-weight="bold" font-size="44.22">T</text>
<text transform="translate(372.17 75.28) scale(0.9981 1)" font-family="Liberation Sans, sans-serif" font-weight="bold" font-size="32.23">9</text>
<text transform="translate(400.99 55.81) scale(1.1015 1)" font-family="Liberation Sans, sans-serif" font-weight="bold" font-size="38.68">=</text>
<text transform="translate(438.07 58.05) scale(0.9393 1)" font-family="Liberation Sans, sans-serif" font-weight="bold" font-size="44.08">3</text>
<text transform="translate(345.63 155.68) scale(1.2175 1)" font-family="Liberation Serif, serif" font-size="47.62" stroke="#000" stroke-width="0.3">ρ</text>
<text transform="translate(383.49 158.44) scale(1.1781 1)" font-family="Liberation Serif, serif" font-size="46.00" stroke="#000" stroke-width="0.7">=</text>
<text transform="translate(426.11 155.51) scale(0.9825 1)" font-family="Liberation Serif, serif" font-size="48.74" stroke="#000" stroke-width="0.5">10</text>
<text transform="translate(472.46 127.70) scale(1.0517 1)" font-family="Liberation Serif, serif" font-size="37.10" stroke="#000" stroke-width="0.4">7</text>
<text transform="translate(327.19 512.10) scale(0.9314 1)" font-family="Liberation Sans, sans-serif" font-weight="bold" font-size="44.22">T</text>
<text transform="translate(351.97 529.38) scale(0.9981 1)" font-family="Liberation Sans, sans-serif" font-weight="bold" font-size="32.23">9</text>
<text transform="translate(380.79 509.91) scale(1.1015 1)" font-family="Liberation Sans, sans-serif" font-weight="bold" font-size="38.68">=</text>
<text transform="translate(417.56 512.26) scale(0.9317 1)" font-family="Liberation Sans, sans-serif" font-weight="bold" font-size="44.44">5</text>
<text transform="translate(325.43 609.78) scale(1.2175 1)" font-family="Liberation Serif, serif" font-size="47.62" stroke="#000" stroke-width="0.3">ρ</text>
<text transform="translate(363.29 612.55) scale(1.1781 1)" font-family="Liberation Serif, serif" font-size="46.00" stroke="#000" stroke-width="0.7">=</text>
<text transform="translate(405.91 609.61) scale(0.9825 1)" font-family="Liberation Serif, serif" font-size="48.74" stroke="#000" stroke-width="0.5">10</text>
<text transform="translate(452.26 581.80) scale(1.0517 1)" font-family="Liberation Serif, serif" font-size="37.10" stroke="#000" stroke-width="0.4">7</text>
<text transform="translate(335.19 1213.20) scale(0.9314 1)" font-family="Liberation Sans, sans-serif" font-weight="bold" font-size="44.22">T</text>
<text transform="translate(359.97 1230.48) scale(0.9981 1)" font-family="Liberation Sans, sans-serif" font-weight="bold" font-size="32.23">9</text>
<text transform="translate(388.79 1211.01) scale(1.1015 1)" font-family="Liberation Sans, sans-serif" font-weight="bold" font-size="38.68">=</text>
<text transform="translate(424.94 1213.20) scale(0.9912 1)" font-family="Liberation Sans, sans-serif" font-weight="bold" font-size="44.22">7</text>
<text transform="translate(333.43 1310.88) scale(1.2175 1)" font-family="Liberation Serif, serif" font-size="47.62" stroke="#000" stroke-width="0.3">ρ</text>
<text transform="translate(371.29 1313.65) scale(1.1781 1)" font-family="Liberation Serif, serif" font-size="46.00" stroke="#000" stroke-width="0.7">=</text>
<text transform="translate(413.91 1310.71) scale(0.9825 1)" font-family="Liberation Serif, serif" font-size="48.74" stroke="#000" stroke-width="0.5">10</text>
<text transform="translate(460.26 1282.90) scale(1.0517 1)" font-family="Liberation Serif, serif" font-size="37.10" stroke="#000" stroke-width="0.4">7</text>
<path d="M867.4 1030.8H961.6" stroke="#000000" stroke-width="1.5" fill="none"/>
<path d="M908.9 1025.5h11.5v11.5h-11.5z" fill="#000000"/>
<text transform="translate(972.10 1045.46) scale(0.9721 1)" font-family="Liberation Sans, sans-serif" font-weight="bold" font-size="34.06">49</text>
<text transform="translate(1009.04 1062.37) scale(0.8978 1)" font-family="Liberation Sans, sans-serif" font-weight="bold" font-size="43.39">Ca</text>
<path d="M867.4 1100.5H961.6" stroke="#ff0000" stroke-width="1.5" fill="none"/>
<path d="M908.2 1100.9a6.4 6.4 0 1 0 12.8 0a6.4 6.4 0 1 0 -12.8 0z" fill="#ff0000"/>
<text transform="translate(972.72 1115.38) scale(0.9585 1)" font-family="Liberation Sans, sans-serif" font-weight="bold" font-size="33.94">53</text>
<text transform="translate(1008.74 1131.90) scale(0.9648 1)" font-family="Liberation Sans, sans-serif" font-weight="bold" font-size="42.33">Mn</text>
<path d="M867.4 1170.2H961.6" stroke="#0000ff" stroke-width="1.5" fill="none"/>
<path d="M914.6 1162.2l7.2 12.6h-14.4z" fill="#0000ff"/>
<text transform="translate(972.10 1184.86) scale(0.9804 1)" font-family="Liberation Sans, sans-serif" font-weight="bold" font-size="34.06">49</text>
<text transform="translate(1009.09 1201.77) scale(0.9278 1)" font-family="Liberation Sans, sans-serif" font-weight="bold" font-size="43.39">Sc</text>
<path d="M867.4 1239.9H961.6" stroke="#ff00ff" stroke-width="1.5" fill="none"/>
<path d="M914.6 1248.7l7.2 -12.6h-14.4z" fill="#ff00ff"/>
<text transform="translate(972.83 1255.06) scale(0.8457 1)" font-family="Liberation Sans, sans-serif" font-weight="bold" font-size="34.27">51</text>
<text transform="translate(1009.09 1271.70) scale(1.0116 1)" font-family="Liberation Sans, sans-serif" font-weight="bold" font-size="40.28">Ti</text>
<path d="M867.4 1309.6H961.6" stroke="#008000" stroke-width="1.5" fill="none"/>
<path d="M914.6 1302.2l7.8 7.8l-7.8 7.8l-7.8 -7.8z" fill="#008000"/>
<text transform="translate(970.63 1324.86) scale(0.9462 1)" font-family="Liberation Sans, sans-serif" font-weight="bold" font-size="34.06">52</text>
<text transform="translate(1006.29 1341.50) scale(0.9685 1)" font-family="Liberation Sans, sans-serif" font-weight="bold" font-size="43.20">V</text>
</svg>
</body></html>
